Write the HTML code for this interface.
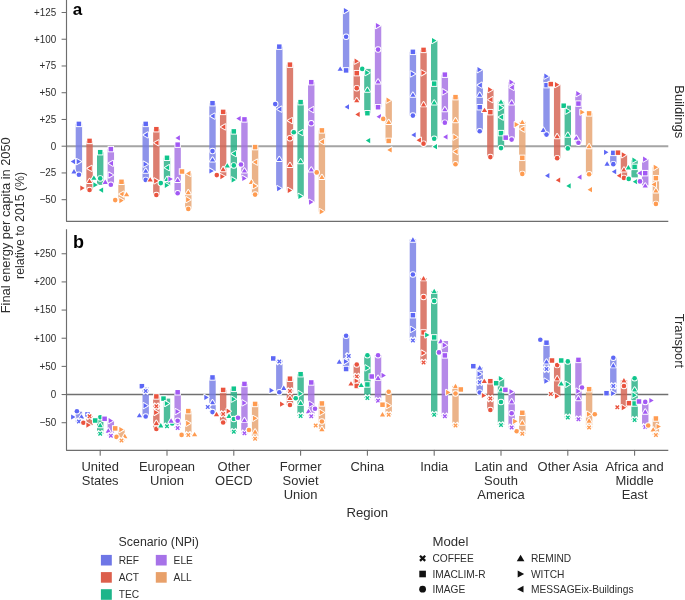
<!DOCTYPE html>
<html><head><meta charset="utf-8"><style>
html,body{margin:0;padding:0;background:#fff;}
body{width:685px;height:600px;overflow:hidden;}
svg{display:block;will-change:transform;}
text{font-family:"Liberation Sans", sans-serif;fill:#2e2e2e;}
.tk{font-size:10.6px;}
.xl{font-size:12px;}
.lt{font-size:12px;}
.lg{font-size:10.2px;}
.pl{font-size:18px;font-weight:bold;fill:#000;}
</style></head><body>
<svg width="685" height="600" viewBox="0 0 685 600">
<line x1="66.5" y1="146.2" x2="668.3" y2="146.2" stroke="#a4a4a4" stroke-width="2"/>
<rect x="75.70" y="123.90" width="6.4" height="51.00" fill="#757de5" fill-opacity="0.82"/>
<rect x="86.35" y="140.90" width="6.4" height="49.00" fill="#d46251" fill-opacity="0.82"/>
<rect x="97.00" y="152.20" width="6.4" height="32.70" fill="#26b085" fill-opacity="0.82"/>
<rect x="107.65" y="149.10" width="6.4" height="35.70" fill="#a570e3" fill-opacity="0.82"/>
<rect x="118.30" y="181.80" width="6.4" height="18.60" fill="#e7a26f" fill-opacity="0.82"/>
<rect x="142.50" y="123.90" width="6.4" height="56.00" fill="#757de5" fill-opacity="0.82"/>
<rect x="153.15" y="129.20" width="6.4" height="65.80" fill="#d46251" fill-opacity="0.82"/>
<rect x="163.80" y="157.80" width="6.4" height="27.50" fill="#26b085" fill-opacity="0.82"/>
<rect x="174.45" y="144.65" width="6.4" height="48.55" fill="#a570e3" fill-opacity="0.82"/>
<rect x="185.10" y="173.40" width="6.4" height="35.50" fill="#e7a26f" fill-opacity="0.82"/>
<rect x="209.30" y="103.20" width="6.4" height="67.80" fill="#757de5" fill-opacity="0.82"/>
<rect x="219.95" y="111.90" width="6.4" height="64.00" fill="#d46251" fill-opacity="0.82"/>
<rect x="230.60" y="131.40" width="6.4" height="48.50" fill="#26b085" fill-opacity="0.82"/>
<rect x="241.25" y="119.40" width="6.4" height="58.50" fill="#a570e3" fill-opacity="0.82"/>
<rect x="251.90" y="147.10" width="6.4" height="47.50" fill="#e7a26f" fill-opacity="0.82"/>
<rect x="276.10" y="46.65" width="6.4" height="141.95" fill="#757de5" fill-opacity="0.82"/>
<rect x="286.75" y="64.65" width="6.4" height="125.75" fill="#d46251" fill-opacity="0.82"/>
<rect x="297.40" y="102.15" width="6.4" height="94.25" fill="#26b085" fill-opacity="0.82"/>
<rect x="308.05" y="82.20" width="6.4" height="119.90" fill="#a570e3" fill-opacity="0.82"/>
<rect x="318.70" y="130.40" width="6.4" height="81.30" fill="#e7a26f" fill-opacity="0.82"/>
<rect x="342.90" y="10.60" width="6.4" height="59.80" fill="#757de5" fill-opacity="0.82"/>
<rect x="353.55" y="61.15" width="6.4" height="39.00" fill="#d46251" fill-opacity="0.82"/>
<rect x="364.20" y="68.90" width="6.4" height="44.30" fill="#26b085" fill-opacity="0.82"/>
<rect x="374.85" y="25.60" width="6.4" height="81.60" fill="#a570e3" fill-opacity="0.82"/>
<rect x="385.50" y="100.15" width="6.4" height="40.75" fill="#e7a26f" fill-opacity="0.82"/>
<rect x="409.70" y="51.85" width="6.4" height="63.75" fill="#757de5" fill-opacity="0.82"/>
<rect x="420.35" y="49.90" width="6.4" height="93.75" fill="#d46251" fill-opacity="0.82"/>
<rect x="431.00" y="40.60" width="6.4" height="98.10" fill="#26b085" fill-opacity="0.82"/>
<rect x="441.65" y="74.65" width="6.4" height="48.00" fill="#a570e3" fill-opacity="0.82"/>
<rect x="452.30" y="97.15" width="6.4" height="67.05" fill="#e7a26f" fill-opacity="0.82"/>
<rect x="476.50" y="69.70" width="6.4" height="61.50" fill="#757de5" fill-opacity="0.82"/>
<rect x="487.15" y="89.65" width="6.4" height="67.45" fill="#d46251" fill-opacity="0.82"/>
<rect x="497.80" y="101.65" width="6.4" height="46.45" fill="#26b085" fill-opacity="0.82"/>
<rect x="508.45" y="82.15" width="6.4" height="57.45" fill="#a570e3" fill-opacity="0.82"/>
<rect x="519.10" y="121.90" width="6.4" height="52.00" fill="#e7a26f" fill-opacity="0.82"/>
<rect x="543.30" y="76.15" width="6.4" height="58.45" fill="#757de5" fill-opacity="0.82"/>
<rect x="553.95" y="84.70" width="6.4" height="73.45" fill="#d46251" fill-opacity="0.82"/>
<rect x="564.60" y="105.70" width="6.4" height="42.70" fill="#26b085" fill-opacity="0.82"/>
<rect x="575.25" y="93.70" width="6.4" height="49.00" fill="#a570e3" fill-opacity="0.82"/>
<rect x="585.90" y="113.20" width="6.4" height="61.00" fill="#e7a26f" fill-opacity="0.82"/>
<rect x="610.10" y="152.90" width="6.4" height="11.25" fill="#757de5" fill-opacity="0.82"/>
<rect x="620.75" y="154.80" width="6.4" height="23.10" fill="#d46251" fill-opacity="0.82"/>
<rect x="631.40" y="160.15" width="6.4" height="17.25" fill="#26b085" fill-opacity="0.82"/>
<rect x="642.05" y="159.15" width="6.4" height="26.25" fill="#a570e3" fill-opacity="0.82"/>
<rect x="652.70" y="167.30" width="6.4" height="36.60" fill="#e7a26f" fill-opacity="0.82"/>
<rect x="76.65" y="121.65" width="4.50" height="4.50" fill="#5d67f5" stroke="#fff" stroke-width="1.90" paint-order="stroke"/>
<polygon points="75.10,159.00 75.10,164.20 70.70,161.60" fill="#5d67f5" stroke="#fff" stroke-width="1.90" stroke-linejoin="round" paint-order="stroke"/>
<polygon points="76.70,159.00 76.70,164.20 81.10,161.60" fill="#5d67f5" stroke="#fff" stroke-width="1.90" stroke-linejoin="round" paint-order="stroke"/>
<polygon points="71.40,173.40 76.60,173.40 74.00,169.00" fill="#5d67f5" stroke="#fff" stroke-width="1.90" stroke-linejoin="round" paint-order="stroke"/>
<circle cx="78.90" cy="174.80" r="2.30" fill="#5d67f5" stroke="#fff" stroke-width="1.90" paint-order="stroke"/>
<rect x="87.30" y="138.65" width="4.50" height="4.50" fill="#ea533e" stroke="#fff" stroke-width="1.90" paint-order="stroke"/>
<polygon points="91.75,165.80 91.75,171.00 87.35,168.40" fill="#ea533e" stroke="#fff" stroke-width="1.90" stroke-linejoin="round" paint-order="stroke"/>
<polygon points="86.95,183.10 92.15,183.10 89.55,178.70" fill="#ea533e" stroke="#fff" stroke-width="1.90" stroke-linejoin="round" paint-order="stroke"/>
<polygon points="80.30,185.50 80.30,190.70 84.70,188.10" fill="#ea533e" stroke="#fff" stroke-width="1.90" stroke-linejoin="round" paint-order="stroke"/>
<circle cx="89.55" cy="190.00" r="2.30" fill="#ea533e" stroke="#fff" stroke-width="1.90" paint-order="stroke"/>
<rect x="97.95" y="149.95" width="4.50" height="4.50" fill="#0fc58c" stroke="#fff" stroke-width="1.90" paint-order="stroke"/>
<polygon points="91.30,179.80 96.50,179.80 93.90,175.40" fill="#0fc58c" stroke="#fff" stroke-width="1.90" stroke-linejoin="round" paint-order="stroke"/>
<circle cx="100.20" cy="178.40" r="2.30" fill="#0fc58c" stroke="#fff" stroke-width="1.90" paint-order="stroke"/>
<polygon points="93.40,182.30 93.40,187.50 97.80,184.90" fill="#0fc58c" stroke="#fff" stroke-width="1.90" stroke-linejoin="round" paint-order="stroke"/>
<polygon points="103.10,187.50 103.10,192.70 98.70,190.10" fill="#0fc58c" stroke="#fff" stroke-width="1.90" stroke-linejoin="round" paint-order="stroke"/>
<rect x="108.60" y="146.85" width="4.50" height="4.50" fill="#a258f4" stroke="#fff" stroke-width="1.90" paint-order="stroke"/>
<polygon points="113.05,160.70 113.05,165.90 108.65,163.30" fill="#a258f4" stroke="#fff" stroke-width="1.90" stroke-linejoin="round" paint-order="stroke"/>
<polygon points="108.65,172.40 108.65,177.60 113.05,175.00" fill="#a258f4" stroke="#fff" stroke-width="1.90" stroke-linejoin="round" paint-order="stroke"/>
<polygon points="102.70,183.90 107.90,183.90 105.30,179.50" fill="#a258f4" stroke="#fff" stroke-width="1.90" stroke-linejoin="round" paint-order="stroke"/>
<circle cx="110.85" cy="184.70" r="2.30" fill="#a258f4" stroke="#fff" stroke-width="1.90" paint-order="stroke"/>
<rect x="119.25" y="179.55" width="4.50" height="4.50" fill="#ff9b50" stroke="#fff" stroke-width="1.90" paint-order="stroke"/>
<polygon points="123.70,191.50 123.70,196.70 119.30,194.10" fill="#ff9b50" stroke="#fff" stroke-width="1.90" stroke-linejoin="round" paint-order="stroke"/>
<polygon points="124.00,196.30 129.20,196.30 126.60,191.90" fill="#ff9b50" stroke="#fff" stroke-width="1.90" stroke-linejoin="round" paint-order="stroke"/>
<circle cx="115.20" cy="200.10" r="2.30" fill="#ff9b50" stroke="#fff" stroke-width="1.90" paint-order="stroke"/>
<polygon points="119.30,198.00 119.30,203.20 123.70,200.60" fill="#ff9b50" stroke="#fff" stroke-width="1.90" stroke-linejoin="round" paint-order="stroke"/>
<rect x="143.45" y="121.65" width="4.50" height="4.50" fill="#5d67f5" stroke="#fff" stroke-width="1.90" paint-order="stroke"/>
<polygon points="147.90,132.30 147.90,137.50 143.50,134.90" fill="#5d67f5" stroke="#fff" stroke-width="1.90" stroke-linejoin="round" paint-order="stroke"/>
<polygon points="143.50,161.55 143.50,166.75 147.90,164.15" fill="#5d67f5" stroke="#fff" stroke-width="1.90" stroke-linejoin="round" paint-order="stroke"/>
<polygon points="143.10,172.85 148.30,172.85 145.70,168.45" fill="#5d67f5" stroke="#fff" stroke-width="1.90" stroke-linejoin="round" paint-order="stroke"/>
<circle cx="145.70" cy="179.90" r="2.30" fill="#5d67f5" stroke="#fff" stroke-width="1.90" paint-order="stroke"/>
<rect x="154.10" y="126.95" width="4.50" height="4.50" fill="#ea533e" stroke="#fff" stroke-width="1.90" paint-order="stroke"/>
<polygon points="158.55,140.20 158.55,145.40 154.15,142.80" fill="#ea533e" stroke="#fff" stroke-width="1.90" stroke-linejoin="round" paint-order="stroke"/>
<polygon points="147.60,181.60 152.80,181.60 150.20,177.20" fill="#ea533e" stroke="#fff" stroke-width="1.90" stroke-linejoin="round" paint-order="stroke"/>
<polygon points="154.15,178.30 154.15,183.50 158.55,180.90" fill="#ea533e" stroke="#fff" stroke-width="1.90" stroke-linejoin="round" paint-order="stroke"/>
<circle cx="156.35" cy="195.00" r="2.30" fill="#ea533e" stroke="#fff" stroke-width="1.90" paint-order="stroke"/>
<rect x="164.75" y="155.55" width="4.50" height="4.50" fill="#0fc58c" stroke="#fff" stroke-width="1.90" paint-order="stroke"/>
<polygon points="169.20,165.10 169.20,170.30 164.80,167.70" fill="#0fc58c" stroke="#fff" stroke-width="1.90" stroke-linejoin="round" paint-order="stroke"/>
<polygon points="164.40,181.10 169.60,181.10 167.00,176.70" fill="#0fc58c" stroke="#fff" stroke-width="1.90" stroke-linejoin="round" paint-order="stroke"/>
<circle cx="160.80" cy="183.10" r="2.30" fill="#0fc58c" stroke="#fff" stroke-width="1.90" paint-order="stroke"/>
<polygon points="164.80,182.70 164.80,187.90 169.20,185.30" fill="#0fc58c" stroke="#fff" stroke-width="1.90" stroke-linejoin="round" paint-order="stroke"/>
<polygon points="179.85,135.30 179.85,140.50 175.45,137.90" fill="#a258f4" stroke="#fff" stroke-width="1.90" stroke-linejoin="round" paint-order="stroke"/>
<rect x="175.40" y="142.40" width="4.50" height="4.50" fill="#a258f4" stroke="#fff" stroke-width="1.90" paint-order="stroke"/>
<polygon points="168.40,176.50 168.40,181.70 172.80,179.10" fill="#a258f4" stroke="#fff" stroke-width="1.90" stroke-linejoin="round" paint-order="stroke"/>
<polygon points="175.05,182.10 180.25,182.10 177.65,177.70" fill="#a258f4" stroke="#fff" stroke-width="1.90" stroke-linejoin="round" paint-order="stroke"/>
<circle cx="177.65" cy="193.20" r="2.30" fill="#a258f4" stroke="#fff" stroke-width="1.90" paint-order="stroke"/>
<rect x="179.75" y="169.25" width="4.50" height="4.50" fill="#ff9b50" stroke="#fff" stroke-width="1.90" paint-order="stroke"/>
<polygon points="190.50,170.80 190.50,176.00 186.10,173.40" fill="#ff9b50" stroke="#fff" stroke-width="1.90" stroke-linejoin="round" paint-order="stroke"/>
<polygon points="185.70,194.30 190.90,194.30 188.30,189.90" fill="#ff9b50" stroke="#fff" stroke-width="1.90" stroke-linejoin="round" paint-order="stroke"/>
<polygon points="186.10,197.10 186.10,202.30 190.50,199.70" fill="#ff9b50" stroke="#fff" stroke-width="1.90" stroke-linejoin="round" paint-order="stroke"/>
<circle cx="188.30" cy="208.90" r="2.30" fill="#ff9b50" stroke="#fff" stroke-width="1.90" paint-order="stroke"/>
<rect x="210.25" y="100.95" width="4.50" height="4.50" fill="#5d67f5" stroke="#fff" stroke-width="1.90" paint-order="stroke"/>
<polygon points="214.70,113.50 214.70,118.70 210.30,116.10" fill="#5d67f5" stroke="#fff" stroke-width="1.90" stroke-linejoin="round" paint-order="stroke"/>
<circle cx="212.50" cy="151.10" r="2.30" fill="#5d67f5" stroke="#fff" stroke-width="1.90" paint-order="stroke"/>
<polygon points="209.90,161.60 215.10,161.60 212.50,157.20" fill="#5d67f5" stroke="#fff" stroke-width="1.90" stroke-linejoin="round" paint-order="stroke"/>
<polygon points="209.40,168.40 209.40,173.60 213.80,171.00" fill="#5d67f5" stroke="#fff" stroke-width="1.90" stroke-linejoin="round" paint-order="stroke"/>
<rect x="220.90" y="109.65" width="4.50" height="4.50" fill="#ea533e" stroke="#fff" stroke-width="1.90" paint-order="stroke"/>
<polygon points="225.35,124.30 225.35,129.50 220.95,126.90" fill="#ea533e" stroke="#fff" stroke-width="1.90" stroke-linejoin="round" paint-order="stroke"/>
<polygon points="220.55,171.20 225.75,171.20 223.15,166.80" fill="#ea533e" stroke="#fff" stroke-width="1.90" stroke-linejoin="round" paint-order="stroke"/>
<circle cx="216.80" cy="175.10" r="2.30" fill="#ea533e" stroke="#fff" stroke-width="1.90" paint-order="stroke"/>
<polygon points="220.40,174.00 220.40,179.20 224.80,176.60" fill="#ea533e" stroke="#fff" stroke-width="1.90" stroke-linejoin="round" paint-order="stroke"/>
<rect x="231.55" y="129.15" width="4.50" height="4.50" fill="#0fc58c" stroke="#fff" stroke-width="1.90" paint-order="stroke"/>
<polygon points="236.00,151.00 236.00,156.20 231.60,153.60" fill="#0fc58c" stroke="#fff" stroke-width="1.90" stroke-linejoin="round" paint-order="stroke"/>
<polygon points="224.70,167.60 229.90,167.60 227.30,163.20" fill="#0fc58c" stroke="#fff" stroke-width="1.90" stroke-linejoin="round" paint-order="stroke"/>
<circle cx="233.80" cy="165.40" r="2.30" fill="#0fc58c" stroke="#fff" stroke-width="1.90" paint-order="stroke"/>
<polygon points="231.60,177.30 231.60,182.50 236.00,179.90" fill="#0fc58c" stroke="#fff" stroke-width="1.90" stroke-linejoin="round" paint-order="stroke"/>
<polygon points="240.70,116.00 240.70,121.20 236.30,118.60" fill="#a258f4" stroke="#fff" stroke-width="1.90" stroke-linejoin="round" paint-order="stroke"/>
<rect x="242.20" y="117.15" width="4.50" height="4.50" fill="#a258f4" stroke="#fff" stroke-width="1.90" paint-order="stroke"/>
<circle cx="241.00" cy="164.50" r="2.30" fill="#a258f4" stroke="#fff" stroke-width="1.90" paint-order="stroke"/>
<polygon points="241.85,172.60 247.05,172.60 244.45,168.20" fill="#a258f4" stroke="#fff" stroke-width="1.90" stroke-linejoin="round" paint-order="stroke"/>
<polygon points="242.25,175.80 242.25,181.00 246.65,178.40" fill="#a258f4" stroke="#fff" stroke-width="1.90" stroke-linejoin="round" paint-order="stroke"/>
<rect x="252.85" y="144.85" width="4.50" height="4.50" fill="#ff9b50" stroke="#fff" stroke-width="1.90" paint-order="stroke"/>
<polygon points="257.30,159.50 257.30,164.70 252.90,162.10" fill="#ff9b50" stroke="#fff" stroke-width="1.90" stroke-linejoin="round" paint-order="stroke"/>
<polygon points="248.80,184.00 254.00,184.00 251.40,179.60" fill="#ff9b50" stroke="#fff" stroke-width="1.90" stroke-linejoin="round" paint-order="stroke"/>
<polygon points="252.90,183.30 252.90,188.50 257.30,185.90" fill="#ff9b50" stroke="#fff" stroke-width="1.90" stroke-linejoin="round" paint-order="stroke"/>
<circle cx="255.10" cy="194.60" r="2.30" fill="#ff9b50" stroke="#fff" stroke-width="1.90" paint-order="stroke"/>
<rect x="277.05" y="44.40" width="4.50" height="4.50" fill="#5d67f5" stroke="#fff" stroke-width="1.90" paint-order="stroke"/>
<circle cx="275.20" cy="104.10" r="2.30" fill="#5d67f5" stroke="#fff" stroke-width="1.90" paint-order="stroke"/>
<polygon points="281.50,106.60 281.50,111.80 277.10,109.20" fill="#5d67f5" stroke="#fff" stroke-width="1.90" stroke-linejoin="round" paint-order="stroke"/>
<polygon points="276.70,161.10 281.90,161.10 279.30,156.70" fill="#5d67f5" stroke="#fff" stroke-width="1.90" stroke-linejoin="round" paint-order="stroke"/>
<polygon points="277.10,186.00 277.10,191.20 281.50,188.60" fill="#5d67f5" stroke="#fff" stroke-width="1.90" stroke-linejoin="round" paint-order="stroke"/>
<rect x="287.70" y="62.40" width="4.50" height="4.50" fill="#ea533e" stroke="#fff" stroke-width="1.90" paint-order="stroke"/>
<polygon points="292.15,118.00 292.15,123.20 287.75,120.60" fill="#ea533e" stroke="#fff" stroke-width="1.90" stroke-linejoin="round" paint-order="stroke"/>
<circle cx="289.95" cy="138.20" r="2.30" fill="#ea533e" stroke="#fff" stroke-width="1.90" paint-order="stroke"/>
<polygon points="287.35,167.10 292.55,167.10 289.95,162.70" fill="#ea533e" stroke="#fff" stroke-width="1.90" stroke-linejoin="round" paint-order="stroke"/>
<polygon points="287.75,187.80 287.75,193.00 292.15,190.40" fill="#ea533e" stroke="#fff" stroke-width="1.90" stroke-linejoin="round" paint-order="stroke"/>
<rect x="298.35" y="99.90" width="4.50" height="4.50" fill="#0fc58c" stroke="#fff" stroke-width="1.90" paint-order="stroke"/>
<circle cx="293.80" cy="132.20" r="2.30" fill="#0fc58c" stroke="#fff" stroke-width="1.90" paint-order="stroke"/>
<polygon points="302.80,130.05 302.80,135.25 298.40,132.65" fill="#0fc58c" stroke="#fff" stroke-width="1.90" stroke-linejoin="round" paint-order="stroke"/>
<polygon points="298.00,163.35 303.20,163.35 300.60,158.95" fill="#0fc58c" stroke="#fff" stroke-width="1.90" stroke-linejoin="round" paint-order="stroke"/>
<polygon points="298.40,193.80 298.40,199.00 302.80,196.40" fill="#0fc58c" stroke="#fff" stroke-width="1.90" stroke-linejoin="round" paint-order="stroke"/>
<rect x="309.00" y="79.95" width="4.50" height="4.50" fill="#a258f4" stroke="#fff" stroke-width="1.90" paint-order="stroke"/>
<polygon points="313.45,107.05 313.45,112.25 309.05,109.65" fill="#a258f4" stroke="#fff" stroke-width="1.90" stroke-linejoin="round" paint-order="stroke"/>
<circle cx="311.25" cy="123.20" r="2.30" fill="#a258f4" stroke="#fff" stroke-width="1.90" paint-order="stroke"/>
<polygon points="308.65,171.60 313.85,171.60 311.25,167.20" fill="#a258f4" stroke="#fff" stroke-width="1.90" stroke-linejoin="round" paint-order="stroke"/>
<polygon points="309.05,199.50 309.05,204.70 313.45,202.10" fill="#a258f4" stroke="#fff" stroke-width="1.90" stroke-linejoin="round" paint-order="stroke"/>
<rect x="319.65" y="128.15" width="4.50" height="4.50" fill="#ff9b50" stroke="#fff" stroke-width="1.90" paint-order="stroke"/>
<polygon points="324.10,139.05 324.10,144.25 319.70,141.65" fill="#ff9b50" stroke="#fff" stroke-width="1.90" stroke-linejoin="round" paint-order="stroke"/>
<circle cx="316.75" cy="172.40" r="2.30" fill="#ff9b50" stroke="#fff" stroke-width="1.90" paint-order="stroke"/>
<polygon points="319.30,179.10 324.50,179.10 321.90,174.70" fill="#ff9b50" stroke="#fff" stroke-width="1.90" stroke-linejoin="round" paint-order="stroke"/>
<polygon points="319.70,209.10 319.70,214.30 324.10,211.70" fill="#ff9b50" stroke="#fff" stroke-width="1.90" stroke-linejoin="round" paint-order="stroke"/>
<polygon points="343.90,8.00 343.90,13.20 348.30,10.60" fill="#5d67f5" stroke="#fff" stroke-width="1.90" stroke-linejoin="round" paint-order="stroke"/>
<circle cx="346.10" cy="36.80" r="2.30" fill="#5d67f5" stroke="#fff" stroke-width="1.90" paint-order="stroke"/>
<polygon points="337.60,70.85 342.80,70.85 340.20,66.45" fill="#5d67f5" stroke="#fff" stroke-width="1.90" stroke-linejoin="round" paint-order="stroke"/>
<rect x="343.85" y="68.15" width="4.50" height="4.50" fill="#5d67f5" stroke="#fff" stroke-width="1.90" paint-order="stroke"/>
<polygon points="349.00,104.30 349.00,109.50 344.60,106.90" fill="#5d67f5" stroke="#fff" stroke-width="1.90" stroke-linejoin="round" paint-order="stroke"/>
<polygon points="354.55,58.55 354.55,63.75 358.95,61.15" fill="#ea533e" stroke="#fff" stroke-width="1.90" stroke-linejoin="round" paint-order="stroke"/>
<rect x="354.50" y="70.90" width="4.50" height="4.50" fill="#ea533e" stroke="#fff" stroke-width="1.90" paint-order="stroke"/>
<circle cx="356.75" cy="88.15" r="2.30" fill="#ea533e" stroke="#fff" stroke-width="1.90" paint-order="stroke"/>
<polygon points="354.15,102.35 359.35,102.35 356.75,97.95" fill="#ea533e" stroke="#fff" stroke-width="1.90" stroke-linejoin="round" paint-order="stroke"/>
<polygon points="359.70,111.80 359.70,117.00 355.30,114.40" fill="#ea533e" stroke="#fff" stroke-width="1.90" stroke-linejoin="round" paint-order="stroke"/>
<circle cx="362.25" cy="68.90" r="2.30" fill="#0fc58c" stroke="#fff" stroke-width="1.90" paint-order="stroke"/>
<polygon points="365.20,70.10 365.20,75.30 369.60,72.70" fill="#0fc58c" stroke="#fff" stroke-width="1.90" stroke-linejoin="round" paint-order="stroke"/>
<polygon points="364.80,91.85 370.00,91.85 367.40,87.45" fill="#0fc58c" stroke="#fff" stroke-width="1.90" stroke-linejoin="round" paint-order="stroke"/>
<rect x="365.15" y="110.95" width="4.50" height="4.50" fill="#0fc58c" stroke="#fff" stroke-width="1.90" paint-order="stroke"/>
<polygon points="370.20,138.00 370.20,143.20 365.80,140.60" fill="#0fc58c" stroke="#fff" stroke-width="1.90" stroke-linejoin="round" paint-order="stroke"/>
<polygon points="375.85,23.00 375.85,28.20 380.25,25.60" fill="#a258f4" stroke="#fff" stroke-width="1.90" stroke-linejoin="round" paint-order="stroke"/>
<circle cx="378.05" cy="49.60" r="2.30" fill="#a258f4" stroke="#fff" stroke-width="1.90" paint-order="stroke"/>
<polygon points="375.45,83.60 380.65,83.60 378.05,79.20" fill="#a258f4" stroke="#fff" stroke-width="1.90" stroke-linejoin="round" paint-order="stroke"/>
<rect x="375.80" y="104.95" width="4.50" height="4.50" fill="#a258f4" stroke="#fff" stroke-width="1.90" paint-order="stroke"/>
<polygon points="380.95,114.05 380.95,119.25 376.55,116.65" fill="#a258f4" stroke="#fff" stroke-width="1.90" stroke-linejoin="round" paint-order="stroke"/>
<polygon points="386.50,97.55 386.50,102.75 390.90,100.15" fill="#ff9b50" stroke="#fff" stroke-width="1.90" stroke-linejoin="round" paint-order="stroke"/>
<circle cx="383.25" cy="118.90" r="2.30" fill="#ff9b50" stroke="#fff" stroke-width="1.90" paint-order="stroke"/>
<polygon points="386.10,124.10 391.30,124.10 388.70,119.70" fill="#ff9b50" stroke="#fff" stroke-width="1.90" stroke-linejoin="round" paint-order="stroke"/>
<rect x="386.45" y="138.65" width="4.50" height="4.50" fill="#ff9b50" stroke="#fff" stroke-width="1.90" paint-order="stroke"/>
<polygon points="391.70,147.30 391.70,152.50 387.30,149.90" fill="#ff9b50" stroke="#fff" stroke-width="1.90" stroke-linejoin="round" paint-order="stroke"/>
<rect x="410.65" y="49.60" width="4.50" height="4.50" fill="#5d67f5" stroke="#fff" stroke-width="1.90" paint-order="stroke"/>
<polygon points="410.70,71.30 410.70,76.50 415.10,73.90" fill="#5d67f5" stroke="#fff" stroke-width="1.90" stroke-linejoin="round" paint-order="stroke"/>
<polygon points="410.30,96.80 415.50,96.80 412.90,92.40" fill="#5d67f5" stroke="#fff" stroke-width="1.90" stroke-linejoin="round" paint-order="stroke"/>
<circle cx="412.90" cy="115.60" r="2.30" fill="#5d67f5" stroke="#fff" stroke-width="1.90" paint-order="stroke"/>
<polygon points="415.70,132.30 415.70,137.50 411.30,134.90" fill="#5d67f5" stroke="#fff" stroke-width="1.90" stroke-linejoin="round" paint-order="stroke"/>
<rect x="421.30" y="47.65" width="4.50" height="4.50" fill="#ea533e" stroke="#fff" stroke-width="1.90" paint-order="stroke"/>
<polygon points="421.35,70.25 421.35,75.45 425.75,72.85" fill="#ea533e" stroke="#fff" stroke-width="1.90" stroke-linejoin="round" paint-order="stroke"/>
<polygon points="420.95,106.40 426.15,106.40 423.55,102.00" fill="#ea533e" stroke="#fff" stroke-width="1.90" stroke-linejoin="round" paint-order="stroke"/>
<polygon points="420.95,137.60 420.95,142.80 416.55,140.20" fill="#ea533e" stroke="#fff" stroke-width="1.90" stroke-linejoin="round" paint-order="stroke"/>
<circle cx="423.55" cy="143.65" r="2.30" fill="#ea533e" stroke="#fff" stroke-width="1.90" paint-order="stroke"/>
<polygon points="432.00,38.00 432.00,43.20 436.40,40.60" fill="#0fc58c" stroke="#fff" stroke-width="1.90" stroke-linejoin="round" paint-order="stroke"/>
<rect x="431.95" y="81.40" width="4.50" height="4.50" fill="#0fc58c" stroke="#fff" stroke-width="1.90" paint-order="stroke"/>
<polygon points="431.60,104.60 436.80,104.60 434.20,100.20" fill="#0fc58c" stroke="#fff" stroke-width="1.90" stroke-linejoin="round" paint-order="stroke"/>
<circle cx="434.20" cy="138.70" r="2.30" fill="#0fc58c" stroke="#fff" stroke-width="1.90" paint-order="stroke"/>
<polygon points="437.00,144.05 437.00,149.25 432.60,146.65" fill="#0fc58c" stroke="#fff" stroke-width="1.90" stroke-linejoin="round" paint-order="stroke"/>
<rect x="442.60" y="72.40" width="4.50" height="4.50" fill="#a258f4" stroke="#fff" stroke-width="1.90" paint-order="stroke"/>
<polygon points="442.65,89.30 442.65,94.50 447.05,91.90" fill="#a258f4" stroke="#fff" stroke-width="1.90" stroke-linejoin="round" paint-order="stroke"/>
<polygon points="442.25,111.35 447.45,111.35 444.85,106.95" fill="#a258f4" stroke="#fff" stroke-width="1.90" stroke-linejoin="round" paint-order="stroke"/>
<circle cx="444.85" cy="122.65" r="2.30" fill="#a258f4" stroke="#fff" stroke-width="1.90" paint-order="stroke"/>
<polygon points="447.50,134.30 447.50,139.50 443.10,136.90" fill="#a258f4" stroke="#fff" stroke-width="1.90" stroke-linejoin="round" paint-order="stroke"/>
<rect x="453.25" y="94.90" width="4.50" height="4.50" fill="#ff9b50" stroke="#fff" stroke-width="1.90" paint-order="stroke"/>
<polygon points="452.90,122.30 458.10,122.30 455.50,117.90" fill="#ff9b50" stroke="#fff" stroke-width="1.90" stroke-linejoin="round" paint-order="stroke"/>
<polygon points="453.30,134.60 453.30,139.80 457.70,137.20" fill="#ff9b50" stroke="#fff" stroke-width="1.90" stroke-linejoin="round" paint-order="stroke"/>
<polygon points="457.70,149.00 457.70,154.20 453.30,151.60" fill="#ff9b50" stroke="#fff" stroke-width="1.90" stroke-linejoin="round" paint-order="stroke"/>
<circle cx="455.50" cy="164.20" r="2.30" fill="#ff9b50" stroke="#fff" stroke-width="1.90" paint-order="stroke"/>
<polygon points="477.50,67.10 477.50,72.30 481.90,69.70" fill="#5d67f5" stroke="#fff" stroke-width="1.90" stroke-linejoin="round" paint-order="stroke"/>
<polygon points="481.90,82.55 481.90,87.75 477.50,85.15" fill="#5d67f5" stroke="#fff" stroke-width="1.90" stroke-linejoin="round" paint-order="stroke"/>
<polygon points="477.10,96.80 482.30,96.80 479.70,92.40" fill="#5d67f5" stroke="#fff" stroke-width="1.90" stroke-linejoin="round" paint-order="stroke"/>
<rect x="477.45" y="104.95" width="4.50" height="4.50" fill="#5d67f5" stroke="#fff" stroke-width="1.90" paint-order="stroke"/>
<circle cx="479.70" cy="131.20" r="2.30" fill="#5d67f5" stroke="#fff" stroke-width="1.90" paint-order="stroke"/>
<polygon points="488.15,87.05 488.15,92.25 492.55,89.65" fill="#ea533e" stroke="#fff" stroke-width="1.90" stroke-linejoin="round" paint-order="stroke"/>
<polygon points="492.55,97.10 492.55,102.30 488.15,99.70" fill="#ea533e" stroke="#fff" stroke-width="1.90" stroke-linejoin="round" paint-order="stroke"/>
<polygon points="481.90,112.10 487.10,112.10 484.50,107.70" fill="#ea533e" stroke="#fff" stroke-width="1.90" stroke-linejoin="round" paint-order="stroke"/>
<rect x="488.10" y="109.90" width="4.50" height="4.50" fill="#ea533e" stroke="#fff" stroke-width="1.90" paint-order="stroke"/>
<circle cx="490.35" cy="157.10" r="2.30" fill="#ea533e" stroke="#fff" stroke-width="1.90" paint-order="stroke"/>
<polygon points="498.40,103.85 503.60,103.85 501.00,99.45" fill="#0fc58c" stroke="#fff" stroke-width="1.90" stroke-linejoin="round" paint-order="stroke"/>
<polygon points="498.80,105.05 498.80,110.25 503.20,107.65" fill="#0fc58c" stroke="#fff" stroke-width="1.90" stroke-linejoin="round" paint-order="stroke"/>
<polygon points="503.20,114.50 503.20,119.70 498.80,117.10" fill="#0fc58c" stroke="#fff" stroke-width="1.90" stroke-linejoin="round" paint-order="stroke"/>
<rect x="498.75" y="130.85" width="4.50" height="4.50" fill="#0fc58c" stroke="#fff" stroke-width="1.90" paint-order="stroke"/>
<circle cx="501.00" cy="148.10" r="2.30" fill="#0fc58c" stroke="#fff" stroke-width="1.90" paint-order="stroke"/>
<polygon points="509.45,79.55 509.45,84.75 513.85,82.15" fill="#a258f4" stroke="#fff" stroke-width="1.90" stroke-linejoin="round" paint-order="stroke"/>
<polygon points="513.85,84.80 513.85,90.00 509.45,87.40" fill="#a258f4" stroke="#fff" stroke-width="1.90" stroke-linejoin="round" paint-order="stroke"/>
<polygon points="509.05,104.60 514.25,104.60 511.65,100.20" fill="#a258f4" stroke="#fff" stroke-width="1.90" stroke-linejoin="round" paint-order="stroke"/>
<rect x="503.45" y="135.40" width="4.50" height="4.50" fill="#a258f4" stroke="#fff" stroke-width="1.90" paint-order="stroke"/>
<circle cx="511.65" cy="139.60" r="2.30" fill="#a258f4" stroke="#fff" stroke-width="1.90" paint-order="stroke"/>
<polygon points="519.70,124.10 524.90,124.10 522.30,119.70" fill="#ff9b50" stroke="#fff" stroke-width="1.90" stroke-linejoin="round" paint-order="stroke"/>
<polygon points="514.60,122.00 514.60,127.20 519.00,124.60" fill="#ff9b50" stroke="#fff" stroke-width="1.90" stroke-linejoin="round" paint-order="stroke"/>
<polygon points="524.50,126.50 524.50,131.70 520.10,129.10" fill="#ff9b50" stroke="#fff" stroke-width="1.90" stroke-linejoin="round" paint-order="stroke"/>
<rect x="520.05" y="155.60" width="4.50" height="4.50" fill="#ff9b50" stroke="#fff" stroke-width="1.90" paint-order="stroke"/>
<circle cx="522.30" cy="173.90" r="2.30" fill="#ff9b50" stroke="#fff" stroke-width="1.90" paint-order="stroke"/>
<polygon points="544.30,73.55 544.30,78.75 548.70,76.15" fill="#5d67f5" stroke="#fff" stroke-width="1.90" stroke-linejoin="round" paint-order="stroke"/>
<rect x="544.25" y="82.90" width="4.50" height="4.50" fill="#5d67f5" stroke="#fff" stroke-width="1.90" paint-order="stroke"/>
<polygon points="540.70,131.90 545.90,131.90 543.30,127.50" fill="#5d67f5" stroke="#fff" stroke-width="1.90" stroke-linejoin="round" paint-order="stroke"/>
<circle cx="546.50" cy="134.60" r="2.30" fill="#5d67f5" stroke="#fff" stroke-width="1.90" paint-order="stroke"/>
<polygon points="549.40,173.10 549.40,178.30 545.00,175.70" fill="#5d67f5" stroke="#fff" stroke-width="1.90" stroke-linejoin="round" paint-order="stroke"/>
<rect x="548.55" y="81.85" width="4.50" height="4.50" fill="#ea533e" stroke="#fff" stroke-width="1.90" paint-order="stroke"/>
<polygon points="554.95,82.10 554.95,87.30 559.35,84.70" fill="#ea533e" stroke="#fff" stroke-width="1.90" stroke-linejoin="round" paint-order="stroke"/>
<polygon points="554.55,138.30 559.75,138.30 557.15,133.90" fill="#ea533e" stroke="#fff" stroke-width="1.90" stroke-linejoin="round" paint-order="stroke"/>
<circle cx="557.15" cy="158.15" r="2.30" fill="#ea533e" stroke="#fff" stroke-width="1.90" paint-order="stroke"/>
<polygon points="560.20,177.60 560.20,182.80 555.80,180.20" fill="#ea533e" stroke="#fff" stroke-width="1.90" stroke-linejoin="round" paint-order="stroke"/>
<rect x="561.45" y="103.45" width="4.50" height="4.50" fill="#0fc58c" stroke="#fff" stroke-width="1.90" paint-order="stroke"/>
<polygon points="565.60,108.50 565.60,113.70 570.00,111.10" fill="#0fc58c" stroke="#fff" stroke-width="1.90" stroke-linejoin="round" paint-order="stroke"/>
<polygon points="565.20,136.85 570.40,136.85 567.80,132.45" fill="#0fc58c" stroke="#fff" stroke-width="1.90" stroke-linejoin="round" paint-order="stroke"/>
<circle cx="567.80" cy="148.40" r="2.30" fill="#0fc58c" stroke="#fff" stroke-width="1.90" paint-order="stroke"/>
<polygon points="570.70,183.30 570.70,188.50 566.30,185.90" fill="#0fc58c" stroke="#fff" stroke-width="1.90" stroke-linejoin="round" paint-order="stroke"/>
<polygon points="576.25,91.10 576.25,96.30 580.65,93.70" fill="#a258f4" stroke="#fff" stroke-width="1.90" stroke-linejoin="round" paint-order="stroke"/>
<rect x="576.20" y="101.35" width="4.50" height="4.50" fill="#a258f4" stroke="#fff" stroke-width="1.90" paint-order="stroke"/>
<polygon points="573.70,139.80 578.90,139.80 576.30,135.40" fill="#a258f4" stroke="#fff" stroke-width="1.90" stroke-linejoin="round" paint-order="stroke"/>
<circle cx="578.45" cy="142.70" r="2.30" fill="#a258f4" stroke="#fff" stroke-width="1.90" paint-order="stroke"/>
<polygon points="581.50,174.60 581.50,179.80 577.10,177.20" fill="#a258f4" stroke="#fff" stroke-width="1.90" stroke-linejoin="round" paint-order="stroke"/>
<polygon points="580.25,109.55 580.25,114.75 584.65,112.15" fill="#ff9b50" stroke="#fff" stroke-width="1.90" stroke-linejoin="round" paint-order="stroke"/>
<rect x="586.85" y="111.15" width="4.50" height="4.50" fill="#ff9b50" stroke="#fff" stroke-width="1.90" paint-order="stroke"/>
<polygon points="586.50,148.35 591.70,148.35 589.10,143.95" fill="#ff9b50" stroke="#fff" stroke-width="1.90" stroke-linejoin="round" paint-order="stroke"/>
<circle cx="589.10" cy="174.20" r="2.30" fill="#ff9b50" stroke="#fff" stroke-width="1.90" paint-order="stroke"/>
<polygon points="592.00,187.05 592.00,192.25 587.60,189.65" fill="#ff9b50" stroke="#fff" stroke-width="1.90" stroke-linejoin="round" paint-order="stroke"/>
<polygon points="604.05,149.70 604.05,154.90 608.45,152.30" fill="#5d67f5" stroke="#fff" stroke-width="1.90" stroke-linejoin="round" paint-order="stroke"/>
<rect x="611.05" y="150.65" width="4.50" height="4.50" fill="#5d67f5" stroke="#fff" stroke-width="1.90" paint-order="stroke"/>
<polygon points="604.50,165.70 609.70,165.70 607.10,161.30" fill="#5d67f5" stroke="#fff" stroke-width="1.90" stroke-linejoin="round" paint-order="stroke"/>
<circle cx="613.30" cy="164.15" r="2.30" fill="#5d67f5" stroke="#fff" stroke-width="1.90" paint-order="stroke"/>
<polygon points="616.20,169.05 616.20,174.25 611.80,171.65" fill="#5d67f5" stroke="#fff" stroke-width="1.90" stroke-linejoin="round" paint-order="stroke"/>
<rect x="615.75" y="150.40" width="4.50" height="4.50" fill="#ea533e" stroke="#fff" stroke-width="1.90" paint-order="stroke"/>
<polygon points="621.75,152.20 621.75,157.40 626.15,154.80" fill="#ea533e" stroke="#fff" stroke-width="1.90" stroke-linejoin="round" paint-order="stroke"/>
<polygon points="621.35,171.60 626.55,171.60 623.95,167.20" fill="#ea533e" stroke="#fff" stroke-width="1.90" stroke-linejoin="round" paint-order="stroke"/>
<polygon points="621.20,173.05 621.20,178.25 616.80,175.65" fill="#ea533e" stroke="#fff" stroke-width="1.90" stroke-linejoin="round" paint-order="stroke"/>
<circle cx="623.95" cy="177.90" r="2.30" fill="#ea533e" stroke="#fff" stroke-width="1.90" paint-order="stroke"/>
<polygon points="632.40,157.55 632.40,162.75 636.80,160.15" fill="#0fc58c" stroke="#fff" stroke-width="1.90" stroke-linejoin="round" paint-order="stroke"/>
<polygon points="625.80,169.50 631.00,169.50 628.40,165.10" fill="#0fc58c" stroke="#fff" stroke-width="1.90" stroke-linejoin="round" paint-order="stroke"/>
<rect x="632.35" y="164.65" width="4.50" height="4.50" fill="#0fc58c" stroke="#fff" stroke-width="1.90" paint-order="stroke"/>
<circle cx="628.75" cy="178.90" r="2.30" fill="#0fc58c" stroke="#fff" stroke-width="1.90" paint-order="stroke"/>
<polygon points="637.20,179.05 637.20,184.25 632.80,181.65" fill="#0fc58c" stroke="#fff" stroke-width="1.90" stroke-linejoin="round" paint-order="stroke"/>
<polygon points="643.05,156.55 643.05,161.75 647.45,159.15" fill="#a258f4" stroke="#fff" stroke-width="1.90" stroke-linejoin="round" paint-order="stroke"/>
<polygon points="641.80,170.55 641.80,175.75 637.40,173.15" fill="#a258f4" stroke="#fff" stroke-width="1.90" stroke-linejoin="round" paint-order="stroke"/>
<rect x="643.00" y="170.90" width="4.50" height="4.50" fill="#a258f4" stroke="#fff" stroke-width="1.90" paint-order="stroke"/>
<circle cx="640.00" cy="181.40" r="2.30" fill="#a258f4" stroke="#fff" stroke-width="1.90" paint-order="stroke"/>
<polygon points="642.65,187.60 647.85,187.60 645.25,183.20" fill="#a258f4" stroke="#fff" stroke-width="1.90" stroke-linejoin="round" paint-order="stroke"/>
<polygon points="653.70,164.70 653.70,169.90 658.10,167.30" fill="#ff9b50" stroke="#fff" stroke-width="1.90" stroke-linejoin="round" paint-order="stroke"/>
<rect x="653.65" y="175.90" width="4.50" height="4.50" fill="#ff9b50" stroke="#fff" stroke-width="1.90" paint-order="stroke"/>
<polygon points="655.95,181.80 655.95,187.00 651.55,184.40" fill="#ff9b50" stroke="#fff" stroke-width="1.90" stroke-linejoin="round" paint-order="stroke"/>
<polygon points="653.30,192.60 658.50,192.60 655.90,188.20" fill="#ff9b50" stroke="#fff" stroke-width="1.90" stroke-linejoin="round" paint-order="stroke"/>
<circle cx="655.90" cy="203.90" r="2.30" fill="#ff9b50" stroke="#fff" stroke-width="1.90" paint-order="stroke"/>
<path d="M66.5,0 V221.3 H668.3" stroke="#6e6e6e" stroke-width="1.15" fill="none" stroke-linejoin="round"/>
<line x1="61.6" y1="12.50" x2="66.5" y2="12.50" stroke="#6e6e6e" stroke-width="1.05"/>
<text transform="translate(56.3,15.80) scale(0.93,1)" text-anchor="end" class="tk">+125</text>
<line x1="61.6" y1="39.24" x2="66.5" y2="39.24" stroke="#6e6e6e" stroke-width="1.05"/>
<text transform="translate(56.3,42.54) scale(0.93,1)" text-anchor="end" class="tk">+100</text>
<line x1="61.6" y1="65.98" x2="66.5" y2="65.98" stroke="#6e6e6e" stroke-width="1.05"/>
<text transform="translate(56.3,69.28) scale(0.93,1)" text-anchor="end" class="tk">+75</text>
<line x1="61.6" y1="92.72" x2="66.5" y2="92.72" stroke="#6e6e6e" stroke-width="1.05"/>
<text transform="translate(56.3,96.02) scale(0.93,1)" text-anchor="end" class="tk">+50</text>
<line x1="61.6" y1="119.46" x2="66.5" y2="119.46" stroke="#6e6e6e" stroke-width="1.05"/>
<text transform="translate(56.3,122.76) scale(0.93,1)" text-anchor="end" class="tk">+25</text>
<line x1="61.6" y1="146.20" x2="66.5" y2="146.20" stroke="#6e6e6e" stroke-width="1.05"/>
<text transform="translate(56.3,149.50) scale(0.93,1)" text-anchor="end" class="tk">0</text>
<line x1="61.6" y1="172.94" x2="66.5" y2="172.94" stroke="#6e6e6e" stroke-width="1.05"/>
<text transform="translate(56.3,176.24) scale(0.93,1)" text-anchor="end" class="tk">−25</text>
<line x1="61.6" y1="199.68" x2="66.5" y2="199.68" stroke="#6e6e6e" stroke-width="1.05"/>
<text transform="translate(56.3,202.98) scale(0.93,1)" text-anchor="end" class="tk">−50</text>
<text x="72.8" y="15.3" class="pl" style="font-size:17px">a</text>
<line x1="66.5" y1="394.55" x2="668.3" y2="394.55" stroke="#707070" stroke-width="1.4"/>
<rect x="75.70" y="411.70" width="6.4" height="9.90" fill="#757de5" fill-opacity="0.82"/>
<rect x="86.35" y="416.20" width="6.4" height="8.90" fill="#d46251" fill-opacity="0.82"/>
<rect x="97.00" y="417.20" width="6.4" height="16.50" fill="#26b085" fill-opacity="0.82"/>
<rect x="107.65" y="420.70" width="6.4" height="15.00" fill="#a570e3" fill-opacity="0.82"/>
<rect x="118.30" y="429.60" width="6.4" height="10.90" fill="#e7a26f" fill-opacity="0.82"/>
<rect x="142.50" y="387.60" width="6.4" height="28.90" fill="#757de5" fill-opacity="0.82"/>
<rect x="153.15" y="396.45" width="6.4" height="32.45" fill="#d46251" fill-opacity="0.82"/>
<rect x="163.80" y="398.60" width="6.4" height="27.60" fill="#26b085" fill-opacity="0.82"/>
<rect x="174.45" y="392.30" width="6.4" height="35.60" fill="#a570e3" fill-opacity="0.82"/>
<rect x="185.10" y="411.10" width="6.4" height="23.80" fill="#e7a26f" fill-opacity="0.82"/>
<rect x="209.30" y="377.45" width="6.4" height="34.65" fill="#757de5" fill-opacity="0.82"/>
<rect x="219.95" y="389.95" width="6.4" height="32.50" fill="#d46251" fill-opacity="0.82"/>
<rect x="230.60" y="388.70" width="6.4" height="43.00" fill="#26b085" fill-opacity="0.82"/>
<rect x="241.25" y="383.95" width="6.4" height="49.35" fill="#a570e3" fill-opacity="0.82"/>
<rect x="251.90" y="403.95" width="6.4" height="34.75" fill="#e7a26f" fill-opacity="0.82"/>
<rect x="276.10" y="359.20" width="6.4" height="33.00" fill="#757de5" fill-opacity="0.82"/>
<rect x="286.75" y="378.70" width="6.4" height="26.25" fill="#d46251" fill-opacity="0.82"/>
<rect x="297.40" y="374.20" width="6.4" height="41.70" fill="#26b085" fill-opacity="0.82"/>
<rect x="308.05" y="382.45" width="6.4" height="33.75" fill="#a570e3" fill-opacity="0.82"/>
<rect x="318.70" y="403.45" width="6.4" height="25.50" fill="#e7a26f" fill-opacity="0.82"/>
<rect x="342.90" y="335.70" width="6.4" height="33.30" fill="#757de5" fill-opacity="0.82"/>
<rect x="353.55" y="364.50" width="6.4" height="21.45" fill="#d46251" fill-opacity="0.82"/>
<rect x="364.20" y="355.20" width="6.4" height="42.75" fill="#26b085" fill-opacity="0.82"/>
<rect x="374.85" y="355.20" width="6.4" height="45.50" fill="#a570e3" fill-opacity="0.82"/>
<rect x="385.50" y="391.70" width="6.4" height="23.00" fill="#e7a26f" fill-opacity="0.82"/>
<rect x="409.70" y="239.50" width="6.4" height="100.90" fill="#757de5" fill-opacity="0.82"/>
<rect x="420.35" y="278.20" width="6.4" height="84.25" fill="#d46251" fill-opacity="0.82"/>
<rect x="431.00" y="290.95" width="6.4" height="123.85" fill="#26b085" fill-opacity="0.82"/>
<rect x="441.65" y="341.00" width="6.4" height="75.30" fill="#a570e3" fill-opacity="0.82"/>
<rect x="452.30" y="385.95" width="6.4" height="39.65" fill="#e7a26f" fill-opacity="0.82"/>
<rect x="476.50" y="367.50" width="6.4" height="25.00" fill="#757de5" fill-opacity="0.82"/>
<rect x="487.15" y="381.20" width="6.4" height="28.80" fill="#d46251" fill-opacity="0.82"/>
<rect x="497.80" y="378.60" width="6.4" height="46.40" fill="#26b085" fill-opacity="0.82"/>
<rect x="508.45" y="391.60" width="6.4" height="35.80" fill="#a570e3" fill-opacity="0.82"/>
<rect x="519.10" y="412.80" width="6.4" height="21.00" fill="#e7a26f" fill-opacity="0.82"/>
<rect x="543.30" y="342.70" width="6.4" height="38.50" fill="#757de5" fill-opacity="0.82"/>
<rect x="553.95" y="365.10" width="6.4" height="31.10" fill="#d46251" fill-opacity="0.82"/>
<rect x="564.60" y="361.40" width="6.4" height="56.00" fill="#26b085" fill-opacity="0.82"/>
<rect x="575.25" y="359.90" width="6.4" height="59.30" fill="#a570e3" fill-opacity="0.82"/>
<rect x="585.90" y="389.20" width="6.4" height="38.25" fill="#e7a26f" fill-opacity="0.82"/>
<rect x="610.10" y="357.70" width="6.4" height="35.80" fill="#757de5" fill-opacity="0.82"/>
<rect x="620.75" y="380.20" width="6.4" height="27.50" fill="#d46251" fill-opacity="0.82"/>
<rect x="631.40" y="378.20" width="6.4" height="41.70" fill="#26b085" fill-opacity="0.82"/>
<rect x="642.05" y="401.90" width="6.4" height="25.00" fill="#a570e3" fill-opacity="0.82"/>
<rect x="652.70" y="418.50" width="6.4" height="16.40" fill="#e7a26f" fill-opacity="0.82"/>
<circle cx="76.90" cy="411.30" r="2.30" fill="#5d67f5" stroke="#fff" stroke-width="1.90" paint-order="stroke"/>
<rect x="85.25" y="412.15" width="4.50" height="4.50" fill="#5d67f5" stroke="#fff" stroke-width="1.90" paint-order="stroke"/>
<polygon points="71.10,414.40 71.10,419.60 75.50,417.00" fill="#5d67f5" stroke="#fff" stroke-width="1.90" stroke-linejoin="round" paint-order="stroke"/>
<polygon points="78.90,418.60 84.10,418.60 81.50,414.20" fill="#5d67f5" stroke="#fff" stroke-width="1.90" stroke-linejoin="round" paint-order="stroke"/>
<path d="M77.15,419.85L80.65,423.35M77.15,423.35L80.65,419.85" stroke="#fff" stroke-width="3.25" fill="none" stroke-linecap="square"/><path d="M77.15,419.85L80.65,423.35M77.15,423.35L80.65,419.85" stroke="#5d67f5" stroke-width="1.35" fill="none"/>
<path d="M87.80,414.45L91.30,417.95M87.80,417.95L91.30,414.45" stroke="#fff" stroke-width="3.25" fill="none" stroke-linecap="square"/><path d="M87.80,414.45L91.30,417.95M87.80,417.95L91.30,414.45" stroke="#ea533e" stroke-width="1.35" fill="none"/>
<circle cx="83.40" cy="422.70" r="2.30" fill="#ea533e" stroke="#fff" stroke-width="1.90" paint-order="stroke"/>
<polygon points="86.40,422.50 86.40,427.70 90.80,425.10" fill="#ea533e" stroke="#fff" stroke-width="1.90" stroke-linejoin="round" paint-order="stroke"/>
<circle cx="100.20" cy="417.20" r="2.30" fill="#0fc58c" stroke="#fff" stroke-width="1.90" paint-order="stroke"/>
<rect x="92.95" y="418.25" width="4.50" height="4.50" fill="#0fc58c" stroke="#fff" stroke-width="1.90" paint-order="stroke"/>
<polygon points="97.60,427.20 102.80,427.20 100.20,422.80" fill="#0fc58c" stroke="#fff" stroke-width="1.90" stroke-linejoin="round" paint-order="stroke"/>
<path d="M98.45,431.95L101.95,435.45M98.45,435.45L101.95,431.95" stroke="#fff" stroke-width="3.25" fill="none" stroke-linecap="square"/><path d="M98.45,431.95L101.95,435.45M98.45,435.45L101.95,431.95" stroke="#0fc58c" stroke-width="1.35" fill="none"/>
<rect x="102.35" y="416.55" width="4.50" height="4.50" fill="#a258f4" stroke="#fff" stroke-width="1.90" paint-order="stroke"/>
<polygon points="108.65,418.10 108.65,423.30 113.05,420.70" fill="#a258f4" stroke="#fff" stroke-width="1.90" stroke-linejoin="round" paint-order="stroke"/>
<polygon points="105.70,432.70 110.90,432.70 108.30,428.30" fill="#a258f4" stroke="#fff" stroke-width="1.90" stroke-linejoin="round" paint-order="stroke"/>
<path d="M109.10,433.95L112.60,437.45M109.10,437.45L112.60,433.95" stroke="#fff" stroke-width="3.25" fill="none" stroke-linecap="square"/><path d="M109.10,433.95L112.60,437.45M109.10,437.45L112.60,433.95" stroke="#a258f4" stroke-width="1.35" fill="none"/>
<rect x="112.95" y="426.15" width="4.50" height="4.50" fill="#ff9b50" stroke="#fff" stroke-width="1.90" paint-order="stroke"/>
<polygon points="119.30,427.00 119.30,432.20 123.70,429.60" fill="#ff9b50" stroke="#fff" stroke-width="1.90" stroke-linejoin="round" paint-order="stroke"/>
<circle cx="116.50" cy="436.90" r="2.30" fill="#ff9b50" stroke="#fff" stroke-width="1.90" paint-order="stroke"/>
<polygon points="122.20,438.20 127.40,438.20 124.80,433.80" fill="#ff9b50" stroke="#fff" stroke-width="1.90" stroke-linejoin="round" paint-order="stroke"/>
<path d="M119.75,438.75L123.25,442.25M119.75,442.25L123.25,438.75" stroke="#fff" stroke-width="3.25" fill="none" stroke-linecap="square"/><path d="M119.75,438.75L123.25,442.25M119.75,442.25L123.25,438.75" stroke="#ff9b50" stroke-width="1.35" fill="none"/>
<rect x="139.65" y="383.95" width="4.50" height="4.50" fill="#5d67f5" stroke="#fff" stroke-width="1.90" paint-order="stroke"/>
<path d="M143.95,389.25L147.45,392.75M143.95,392.75L147.45,389.25" stroke="#fff" stroke-width="3.25" fill="none" stroke-linecap="square"/><path d="M143.95,389.25L147.45,392.75M143.95,392.75L147.45,389.25" stroke="#5d67f5" stroke-width="1.35" fill="none"/>
<polygon points="143.50,403.10 143.50,408.30 147.90,405.70" fill="#5d67f5" stroke="#fff" stroke-width="1.90" stroke-linejoin="round" paint-order="stroke"/>
<polygon points="136.80,417.30 142.00,417.30 139.40,412.90" fill="#5d67f5" stroke="#fff" stroke-width="1.90" stroke-linejoin="round" paint-order="stroke"/>
<circle cx="145.70" cy="416.50" r="2.30" fill="#5d67f5" stroke="#fff" stroke-width="1.90" paint-order="stroke"/>
<rect x="154.10" y="394.20" width="4.50" height="4.50" fill="#ea533e" stroke="#fff" stroke-width="1.90" paint-order="stroke"/>
<path d="M154.60,404.45L158.10,407.95M154.60,407.95L158.10,404.45" stroke="#fff" stroke-width="3.25" fill="none" stroke-linecap="square"/><path d="M154.60,404.45L158.10,407.95M154.60,407.95L158.10,404.45" stroke="#ea533e" stroke-width="1.35" fill="none"/>
<polygon points="154.15,409.90 154.15,415.10 158.55,412.50" fill="#ea533e" stroke="#fff" stroke-width="1.90" stroke-linejoin="round" paint-order="stroke"/>
<polygon points="153.75,424.90 158.95,424.90 156.35,420.50" fill="#ea533e" stroke="#fff" stroke-width="1.90" stroke-linejoin="round" paint-order="stroke"/>
<circle cx="156.35" cy="428.90" r="2.30" fill="#ea533e" stroke="#fff" stroke-width="1.90" paint-order="stroke"/>
<rect x="161.25" y="396.35" width="4.50" height="4.50" fill="#0fc58c" stroke="#fff" stroke-width="1.90" paint-order="stroke"/>
<polygon points="164.80,400.90 164.80,406.10 169.20,403.50" fill="#0fc58c" stroke="#fff" stroke-width="1.90" stroke-linejoin="round" paint-order="stroke"/>
<polygon points="158.20,427.40 163.40,427.40 160.80,423.00" fill="#0fc58c" stroke="#fff" stroke-width="1.90" stroke-linejoin="round" paint-order="stroke"/>
<path d="M165.25,424.45L168.75,427.95M165.25,427.95L168.75,424.45" stroke="#fff" stroke-width="3.25" fill="none" stroke-linecap="square"/><path d="M165.25,424.45L168.75,427.95M165.25,427.95L168.75,424.45" stroke="#0fc58c" stroke-width="1.35" fill="none"/>
<circle cx="172.20" cy="423.50" r="2.30" fill="#0fc58c" stroke="#fff" stroke-width="1.90" paint-order="stroke"/>
<rect x="175.40" y="390.05" width="4.50" height="4.50" fill="#a258f4" stroke="#fff" stroke-width="1.90" paint-order="stroke"/>
<polygon points="175.45,409.00 175.45,414.20 179.85,411.60" fill="#a258f4" stroke="#fff" stroke-width="1.90" stroke-linejoin="round" paint-order="stroke"/>
<polygon points="168.50,422.70 173.70,422.70 171.10,418.30" fill="#a258f4" stroke="#fff" stroke-width="1.90" stroke-linejoin="round" paint-order="stroke"/>
<circle cx="177.65" cy="420.80" r="2.30" fill="#a258f4" stroke="#fff" stroke-width="1.90" paint-order="stroke"/>
<path d="M175.90,426.15L179.40,429.65M175.90,429.65L179.40,426.15" stroke="#fff" stroke-width="3.25" fill="none" stroke-linecap="square"/><path d="M175.90,426.15L179.40,429.65M175.90,429.65L179.40,426.15" stroke="#a258f4" stroke-width="1.35" fill="none"/>
<rect x="186.05" y="408.85" width="4.50" height="4.50" fill="#ff9b50" stroke="#fff" stroke-width="1.90" paint-order="stroke"/>
<polygon points="186.10,420.70 186.10,425.90 190.50,423.30" fill="#ff9b50" stroke="#fff" stroke-width="1.90" stroke-linejoin="round" paint-order="stroke"/>
<circle cx="181.60" cy="434.90" r="2.30" fill="#ff9b50" stroke="#fff" stroke-width="1.90" paint-order="stroke"/>
<path d="M186.55,433.15L190.05,436.65M186.55,436.65L190.05,433.15" stroke="#fff" stroke-width="3.25" fill="none" stroke-linecap="square"/><path d="M186.55,433.15L190.05,436.65M186.55,436.65L190.05,433.15" stroke="#ff9b50" stroke-width="1.35" fill="none"/>
<polygon points="192.00,436.30 197.20,436.30 194.60,431.90" fill="#ff9b50" stroke="#fff" stroke-width="1.90" stroke-linejoin="round" paint-order="stroke"/>
<rect x="210.25" y="375.20" width="4.50" height="4.50" fill="#5d67f5" stroke="#fff" stroke-width="1.90" paint-order="stroke"/>
<polygon points="204.30,394.85 204.30,400.05 208.70,397.45" fill="#5d67f5" stroke="#fff" stroke-width="1.90" stroke-linejoin="round" paint-order="stroke"/>
<polygon points="209.90,404.30 215.10,404.30 212.50,399.90" fill="#5d67f5" stroke="#fff" stroke-width="1.90" stroke-linejoin="round" paint-order="stroke"/>
<path d="M206.00,405.35L209.50,408.85M206.00,408.85L209.50,405.35" stroke="#fff" stroke-width="3.25" fill="none" stroke-linecap="square"/><path d="M206.00,405.35L209.50,408.85M206.00,408.85L209.50,405.35" stroke="#5d67f5" stroke-width="1.35" fill="none"/>
<circle cx="212.50" cy="412.10" r="2.30" fill="#5d67f5" stroke="#fff" stroke-width="1.90" paint-order="stroke"/>
<rect x="220.90" y="387.70" width="4.50" height="4.50" fill="#ea533e" stroke="#fff" stroke-width="1.90" paint-order="stroke"/>
<polygon points="213.90,416.15 219.10,416.15 216.50,411.75" fill="#ea533e" stroke="#fff" stroke-width="1.90" stroke-linejoin="round" paint-order="stroke"/>
<path d="M221.40,412.20L224.90,415.70M221.40,415.70L224.90,412.20" stroke="#fff" stroke-width="3.25" fill="none" stroke-linecap="square"/><path d="M221.40,412.20L224.90,415.70M221.40,415.70L224.90,412.20" stroke="#ea533e" stroke-width="1.35" fill="none"/>
<polygon points="226.55,408.60 226.55,413.80 230.95,411.20" fill="#ea533e" stroke="#fff" stroke-width="1.90" stroke-linejoin="round" paint-order="stroke"/>
<circle cx="223.15" cy="422.45" r="2.30" fill="#ea533e" stroke="#fff" stroke-width="1.90" paint-order="stroke"/>
<rect x="231.55" y="386.45" width="4.50" height="4.50" fill="#0fc58c" stroke="#fff" stroke-width="1.90" paint-order="stroke"/>
<polygon points="231.60,396.60 231.60,401.80 236.00,399.20" fill="#0fc58c" stroke="#fff" stroke-width="1.90" stroke-linejoin="round" paint-order="stroke"/>
<polygon points="226.40,418.00 231.60,418.00 229.00,413.60" fill="#0fc58c" stroke="#fff" stroke-width="1.90" stroke-linejoin="round" paint-order="stroke"/>
<circle cx="233.80" cy="418.95" r="2.30" fill="#0fc58c" stroke="#fff" stroke-width="1.90" paint-order="stroke"/>
<path d="M232.05,429.95L235.55,433.45M232.05,433.45L235.55,429.95" stroke="#fff" stroke-width="3.25" fill="none" stroke-linecap="square"/><path d="M232.05,429.95L235.55,433.45M232.05,433.45L235.55,429.95" stroke="#0fc58c" stroke-width="1.35" fill="none"/>
<rect x="242.20" y="381.70" width="4.50" height="4.50" fill="#a258f4" stroke="#fff" stroke-width="1.90" paint-order="stroke"/>
<polygon points="242.25,400.35 242.25,405.55 246.65,402.95" fill="#a258f4" stroke="#fff" stroke-width="1.90" stroke-linejoin="round" paint-order="stroke"/>
<circle cx="238.00" cy="417.70" r="2.30" fill="#a258f4" stroke="#fff" stroke-width="1.90" paint-order="stroke"/>
<polygon points="241.85,422.15 247.05,422.15 244.45,417.75" fill="#a258f4" stroke="#fff" stroke-width="1.90" stroke-linejoin="round" paint-order="stroke"/>
<path d="M242.70,431.55L246.20,435.05M242.70,435.05L246.20,431.55" stroke="#fff" stroke-width="3.25" fill="none" stroke-linecap="square"/><path d="M242.70,431.55L246.20,435.05M242.70,435.05L246.20,431.55" stroke="#a258f4" stroke-width="1.35" fill="none"/>
<rect x="252.85" y="401.70" width="4.50" height="4.50" fill="#ff9b50" stroke="#fff" stroke-width="1.90" paint-order="stroke"/>
<polygon points="252.90,415.70 252.90,420.90 257.30,418.30" fill="#ff9b50" stroke="#fff" stroke-width="1.90" stroke-linejoin="round" paint-order="stroke"/>
<circle cx="249.00" cy="429.95" r="2.30" fill="#ff9b50" stroke="#fff" stroke-width="1.90" paint-order="stroke"/>
<polygon points="252.50,433.65 257.70,433.65 255.10,429.25" fill="#ff9b50" stroke="#fff" stroke-width="1.90" stroke-linejoin="round" paint-order="stroke"/>
<path d="M253.35,436.95L256.85,440.45M253.35,440.45L256.85,436.95" stroke="#fff" stroke-width="3.25" fill="none" stroke-linecap="square"/><path d="M253.35,436.95L256.85,440.45M253.35,440.45L256.85,436.95" stroke="#ff9b50" stroke-width="1.35" fill="none"/>
<rect x="271.00" y="356.20" width="4.50" height="4.50" fill="#5d67f5" stroke="#fff" stroke-width="1.90" paint-order="stroke"/>
<path d="M277.55,359.70L281.05,363.20M277.55,363.20L281.05,359.70" stroke="#fff" stroke-width="3.25" fill="none" stroke-linecap="square"/><path d="M277.55,359.70L281.05,363.20M277.55,363.20L281.05,359.70" stroke="#5d67f5" stroke-width="1.35" fill="none"/>
<polygon points="281.15,389.90 286.35,389.90 283.75,385.50" fill="#5d67f5" stroke="#fff" stroke-width="1.90" stroke-linejoin="round" paint-order="stroke"/>
<polygon points="269.55,387.80 269.55,393.00 273.95,390.40" fill="#5d67f5" stroke="#fff" stroke-width="1.90" stroke-linejoin="round" paint-order="stroke"/>
<circle cx="279.30" cy="392.20" r="2.30" fill="#5d67f5" stroke="#fff" stroke-width="1.90" paint-order="stroke"/>
<rect x="287.70" y="376.45" width="4.50" height="4.50" fill="#ea533e" stroke="#fff" stroke-width="1.90" paint-order="stroke"/>
<path d="M288.20,389.25L291.70,392.75M288.20,392.75L291.70,389.25" stroke="#fff" stroke-width="3.25" fill="none" stroke-linecap="square"/><path d="M288.20,389.25L291.70,392.75M288.20,392.75L291.70,389.25" stroke="#ea533e" stroke-width="1.35" fill="none"/>
<polygon points="287.35,400.10 292.55,400.10 289.95,395.70" fill="#ea533e" stroke="#fff" stroke-width="1.90" stroke-linejoin="round" paint-order="stroke"/>
<polygon points="280.05,401.60 280.05,406.80 284.45,404.20" fill="#ea533e" stroke="#fff" stroke-width="1.90" stroke-linejoin="round" paint-order="stroke"/>
<circle cx="289.95" cy="404.95" r="2.30" fill="#ea533e" stroke="#fff" stroke-width="1.90" paint-order="stroke"/>
<rect x="298.35" y="371.95" width="4.50" height="4.50" fill="#0fc58c" stroke="#fff" stroke-width="1.90" paint-order="stroke"/>
<polygon points="298.40,391.10 298.40,396.30 302.80,393.70" fill="#0fc58c" stroke="#fff" stroke-width="1.90" stroke-linejoin="round" paint-order="stroke"/>
<circle cx="295.75" cy="398.20" r="2.30" fill="#0fc58c" stroke="#fff" stroke-width="1.90" paint-order="stroke"/>
<polygon points="298.00,404.90 303.20,404.90 300.60,400.50" fill="#0fc58c" stroke="#fff" stroke-width="1.90" stroke-linejoin="round" paint-order="stroke"/>
<path d="M298.85,414.15L302.35,417.65M298.85,417.65L302.35,414.15" stroke="#fff" stroke-width="3.25" fill="none" stroke-linecap="square"/><path d="M298.85,414.15L302.35,417.65M298.85,417.65L302.35,414.15" stroke="#0fc58c" stroke-width="1.35" fill="none"/>
<rect x="309.00" y="380.20" width="4.50" height="4.50" fill="#a258f4" stroke="#fff" stroke-width="1.90" paint-order="stroke"/>
<polygon points="309.05,401.60 309.05,406.80 313.45,404.20" fill="#a258f4" stroke="#fff" stroke-width="1.90" stroke-linejoin="round" paint-order="stroke"/>
<circle cx="315.00" cy="408.70" r="2.30" fill="#a258f4" stroke="#fff" stroke-width="1.90" paint-order="stroke"/>
<polygon points="305.90,413.15 311.10,413.15 308.50,408.75" fill="#a258f4" stroke="#fff" stroke-width="1.90" stroke-linejoin="round" paint-order="stroke"/>
<path d="M309.50,414.45L313.00,417.95M309.50,417.95L313.00,414.45" stroke="#fff" stroke-width="3.25" fill="none" stroke-linecap="square"/><path d="M309.50,414.45L313.00,417.95M309.50,417.95L313.00,414.45" stroke="#a258f4" stroke-width="1.35" fill="none"/>
<rect x="319.65" y="401.20" width="4.50" height="4.50" fill="#ff9b50" stroke="#fff" stroke-width="1.90" paint-order="stroke"/>
<polygon points="319.70,409.85 319.70,415.05 324.10,412.45" fill="#ff9b50" stroke="#fff" stroke-width="1.90" stroke-linejoin="round" paint-order="stroke"/>
<circle cx="321.90" cy="421.45" r="2.30" fill="#ff9b50" stroke="#fff" stroke-width="1.90" paint-order="stroke"/>
<path d="M313.95,423.75L317.45,427.25M313.95,427.25L317.45,423.75" stroke="#fff" stroke-width="3.25" fill="none" stroke-linecap="square"/><path d="M313.95,423.75L317.45,427.25M313.95,427.25L317.45,423.75" stroke="#ff9b50" stroke-width="1.35" fill="none"/>
<polygon points="319.30,431.15 324.50,431.15 321.90,426.75" fill="#ff9b50" stroke="#fff" stroke-width="1.90" stroke-linejoin="round" paint-order="stroke"/>
<circle cx="346.10" cy="335.70" r="2.30" fill="#5d67f5" stroke="#fff" stroke-width="1.90" paint-order="stroke"/>
<path d="M347.00,354.20L350.50,357.70M347.00,357.70L350.50,354.20" stroke="#fff" stroke-width="3.25" fill="none" stroke-linecap="square"/><path d="M347.00,354.20L350.50,357.70M347.00,357.70L350.50,354.20" stroke="#5d67f5" stroke-width="1.35" fill="none"/>
<polygon points="336.70,363.70 341.90,363.70 339.30,359.30" fill="#5d67f5" stroke="#fff" stroke-width="1.90" stroke-linejoin="round" paint-order="stroke"/>
<polygon points="343.90,358.90 343.90,364.10 348.30,361.50" fill="#5d67f5" stroke="#fff" stroke-width="1.90" stroke-linejoin="round" paint-order="stroke"/>
<rect x="343.85" y="366.75" width="4.50" height="4.50" fill="#5d67f5" stroke="#fff" stroke-width="1.90" paint-order="stroke"/>
<circle cx="356.75" cy="364.50" r="2.30" fill="#ea533e" stroke="#fff" stroke-width="1.90" paint-order="stroke"/>
<path d="M355.00,374.75L358.50,378.25M355.00,378.25L358.50,374.75" stroke="#fff" stroke-width="3.25" fill="none" stroke-linecap="square"/><path d="M355.00,374.75L358.50,378.25M355.00,378.25L358.50,374.75" stroke="#ea533e" stroke-width="1.35" fill="none"/>
<polygon points="354.55,378.40 354.55,383.60 358.95,381.00" fill="#ea533e" stroke="#fff" stroke-width="1.90" stroke-linejoin="round" paint-order="stroke"/>
<polygon points="348.40,385.60 353.60,385.60 351.00,381.20" fill="#ea533e" stroke="#fff" stroke-width="1.90" stroke-linejoin="round" paint-order="stroke"/>
<rect x="354.50" y="383.70" width="4.50" height="4.50" fill="#ea533e" stroke="#fff" stroke-width="1.90" paint-order="stroke"/>
<circle cx="367.40" cy="355.20" r="2.30" fill="#0fc58c" stroke="#fff" stroke-width="1.90" paint-order="stroke"/>
<polygon points="365.20,365.35 365.20,370.55 369.60,367.95" fill="#0fc58c" stroke="#fff" stroke-width="1.90" stroke-linejoin="round" paint-order="stroke"/>
<polygon points="358.60,387.10 363.80,387.10 361.20,382.70" fill="#0fc58c" stroke="#fff" stroke-width="1.90" stroke-linejoin="round" paint-order="stroke"/>
<rect x="365.15" y="382.20" width="4.50" height="4.50" fill="#0fc58c" stroke="#fff" stroke-width="1.90" paint-order="stroke"/>
<path d="M365.65,396.20L369.15,399.70M365.65,399.70L369.15,396.20" stroke="#fff" stroke-width="3.25" fill="none" stroke-linecap="square"/><path d="M365.65,396.20L369.15,399.70M365.65,399.70L369.15,396.20" stroke="#0fc58c" stroke-width="1.35" fill="none"/>
<circle cx="378.05" cy="355.20" r="2.30" fill="#a258f4" stroke="#fff" stroke-width="1.90" paint-order="stroke"/>
<rect x="369.45" y="374.25" width="4.50" height="4.50" fill="#a258f4" stroke="#fff" stroke-width="1.90" paint-order="stroke"/>
<polygon points="375.45,379.90 380.65,379.90 378.05,375.50" fill="#a258f4" stroke="#fff" stroke-width="1.90" stroke-linejoin="round" paint-order="stroke"/>
<polygon points="381.50,372.85 381.50,378.05 385.90,375.45" fill="#a258f4" stroke="#fff" stroke-width="1.90" stroke-linejoin="round" paint-order="stroke"/>
<path d="M376.30,398.95L379.80,402.45M376.30,402.45L379.80,398.95" stroke="#fff" stroke-width="3.25" fill="none" stroke-linecap="square"/><path d="M376.30,398.95L379.80,402.45M376.30,402.45L379.80,398.95" stroke="#a258f4" stroke-width="1.35" fill="none"/>
<circle cx="388.70" cy="391.70" r="2.30" fill="#ff9b50" stroke="#fff" stroke-width="1.90" paint-order="stroke"/>
<rect x="380.25" y="402.45" width="4.50" height="4.50" fill="#ff9b50" stroke="#fff" stroke-width="1.90" paint-order="stroke"/>
<polygon points="386.50,403.10 386.50,408.30 390.90,405.70" fill="#ff9b50" stroke="#fff" stroke-width="1.90" stroke-linejoin="round" paint-order="stroke"/>
<polygon points="379.90,416.40 385.10,416.40 382.50,412.00" fill="#ff9b50" stroke="#fff" stroke-width="1.90" stroke-linejoin="round" paint-order="stroke"/>
<path d="M386.95,412.95L390.45,416.45M386.95,416.45L390.45,412.95" stroke="#fff" stroke-width="3.25" fill="none" stroke-linecap="square"/><path d="M386.95,412.95L390.45,416.45M386.95,416.45L390.45,412.95" stroke="#ff9b50" stroke-width="1.35" fill="none"/>
<polygon points="410.30,241.70 415.50,241.70 412.90,237.30" fill="#5d67f5" stroke="#fff" stroke-width="1.90" stroke-linejoin="round" paint-order="stroke"/>
<circle cx="412.90" cy="274.45" r="2.30" fill="#5d67f5" stroke="#fff" stroke-width="1.90" paint-order="stroke"/>
<rect x="410.65" y="312.95" width="4.50" height="4.50" fill="#5d67f5" stroke="#fff" stroke-width="1.90" paint-order="stroke"/>
<polygon points="410.70,326.85 410.70,332.05 415.10,329.45" fill="#5d67f5" stroke="#fff" stroke-width="1.90" stroke-linejoin="round" paint-order="stroke"/>
<path d="M411.15,338.65L414.65,342.15M411.15,342.15L414.65,338.65" stroke="#fff" stroke-width="3.25" fill="none" stroke-linecap="square"/><path d="M411.15,338.65L414.65,342.15M411.15,342.15L414.65,338.65" stroke="#5d67f5" stroke-width="1.35" fill="none"/>
<polygon points="420.95,280.40 426.15,280.40 423.55,276.00" fill="#ea533e" stroke="#fff" stroke-width="1.90" stroke-linejoin="round" paint-order="stroke"/>
<circle cx="423.55" cy="296.95" r="2.30" fill="#ea533e" stroke="#fff" stroke-width="1.90" paint-order="stroke"/>
<rect x="421.30" y="330.20" width="4.50" height="4.50" fill="#ea533e" stroke="#fff" stroke-width="1.90" paint-order="stroke"/>
<polygon points="421.35,350.40 421.35,355.60 425.75,353.00" fill="#ea533e" stroke="#fff" stroke-width="1.90" stroke-linejoin="round" paint-order="stroke"/>
<path d="M421.80,360.70L425.30,364.20M421.80,364.20L425.30,360.70" stroke="#fff" stroke-width="3.25" fill="none" stroke-linecap="square"/><path d="M421.80,360.70L425.30,364.20M421.80,364.20L425.30,360.70" stroke="#ea533e" stroke-width="1.35" fill="none"/>
<polygon points="431.60,293.15 436.80,293.15 434.20,288.75" fill="#0fc58c" stroke="#fff" stroke-width="1.90" stroke-linejoin="round" paint-order="stroke"/>
<circle cx="434.20" cy="300.95" r="2.30" fill="#0fc58c" stroke="#fff" stroke-width="1.90" paint-order="stroke"/>
<polygon points="425.10,332.40 425.10,337.60 429.50,335.00" fill="#0fc58c" stroke="#fff" stroke-width="1.90" stroke-linejoin="round" paint-order="stroke"/>
<rect x="431.95" y="335.15" width="4.50" height="4.50" fill="#0fc58c" stroke="#fff" stroke-width="1.90" paint-order="stroke"/>
<path d="M432.45,413.05L435.95,416.55M432.45,416.55L435.95,413.05" stroke="#fff" stroke-width="3.25" fill="none" stroke-linecap="square"/><path d="M432.45,413.05L435.95,416.55M432.45,416.55L435.95,413.05" stroke="#0fc58c" stroke-width="1.35" fill="none"/>
<polygon points="438.20,343.20 443.40,343.20 440.80,338.80" fill="#a258f4" stroke="#fff" stroke-width="1.90" stroke-linejoin="round" paint-order="stroke"/>
<polygon points="442.65,342.60 442.65,347.80 447.05,345.20" fill="#a258f4" stroke="#fff" stroke-width="1.90" stroke-linejoin="round" paint-order="stroke"/>
<circle cx="439.00" cy="352.40" r="2.30" fill="#a258f4" stroke="#fff" stroke-width="1.90" paint-order="stroke"/>
<rect x="442.60" y="353.15" width="4.50" height="4.50" fill="#a258f4" stroke="#fff" stroke-width="1.90" paint-order="stroke"/>
<path d="M443.10,414.55L446.60,418.05M443.10,418.05L446.60,414.55" stroke="#fff" stroke-width="3.25" fill="none" stroke-linecap="square"/><path d="M443.10,414.55L446.60,418.05M443.10,418.05L446.60,414.55" stroke="#a258f4" stroke-width="1.35" fill="none"/>
<polygon points="452.90,388.15 458.10,388.15 455.50,383.75" fill="#ff9b50" stroke="#fff" stroke-width="1.90" stroke-linejoin="round" paint-order="stroke"/>
<rect x="458.55" y="387.20" width="4.50" height="4.50" fill="#ff9b50" stroke="#fff" stroke-width="1.90" paint-order="stroke"/>
<polygon points="446.10,389.80 446.10,395.00 450.50,392.40" fill="#ff9b50" stroke="#fff" stroke-width="1.90" stroke-linejoin="round" paint-order="stroke"/>
<circle cx="455.50" cy="393.55" r="2.30" fill="#ff9b50" stroke="#fff" stroke-width="1.90" paint-order="stroke"/>
<path d="M453.75,423.85L457.25,427.35M453.75,427.35L457.25,423.85" stroke="#fff" stroke-width="3.25" fill="none" stroke-linecap="square"/><path d="M453.75,423.85L457.25,427.35M453.75,427.35L457.25,423.85" stroke="#ff9b50" stroke-width="1.35" fill="none"/>
<rect x="471.05" y="363.95" width="4.50" height="4.50" fill="#5d67f5" stroke="#fff" stroke-width="1.90" paint-order="stroke"/>
<polygon points="477.10,369.70 482.30,369.70 479.70,365.30" fill="#5d67f5" stroke="#fff" stroke-width="1.90" stroke-linejoin="round" paint-order="stroke"/>
<polygon points="477.50,371.30 477.50,376.50 481.90,373.90" fill="#5d67f5" stroke="#fff" stroke-width="1.90" stroke-linejoin="round" paint-order="stroke"/>
<path d="M477.95,380.45L481.45,383.95M477.95,383.95L481.45,380.45" stroke="#fff" stroke-width="3.25" fill="none" stroke-linecap="square"/><path d="M477.95,380.45L481.45,383.95M477.95,383.95L481.45,380.45" stroke="#5d67f5" stroke-width="1.35" fill="none"/>
<circle cx="479.70" cy="392.50" r="2.30" fill="#5d67f5" stroke="#fff" stroke-width="1.90" paint-order="stroke"/>
<polygon points="481.70,383.10 486.90,383.10 484.30,378.70" fill="#ea533e" stroke="#fff" stroke-width="1.90" stroke-linejoin="round" paint-order="stroke"/>
<rect x="488.10" y="378.95" width="4.50" height="4.50" fill="#ea533e" stroke="#fff" stroke-width="1.90" paint-order="stroke"/>
<polygon points="481.80,392.90 481.80,398.10 486.20,395.50" fill="#ea533e" stroke="#fff" stroke-width="1.90" stroke-linejoin="round" paint-order="stroke"/>
<path d="M488.60,396.75L492.10,400.25M488.60,400.25L492.10,396.75" stroke="#fff" stroke-width="3.25" fill="none" stroke-linecap="square"/><path d="M488.60,396.75L492.10,400.25M488.60,400.25L492.10,396.75" stroke="#ea533e" stroke-width="1.35" fill="none"/>
<circle cx="490.35" cy="410.00" r="2.30" fill="#ea533e" stroke="#fff" stroke-width="1.90" paint-order="stroke"/>
<polygon points="498.80,376.00 498.80,381.20 503.20,378.60" fill="#0fc58c" stroke="#fff" stroke-width="1.90" stroke-linejoin="round" paint-order="stroke"/>
<rect x="493.95" y="380.95" width="4.50" height="4.50" fill="#0fc58c" stroke="#fff" stroke-width="1.90" paint-order="stroke"/>
<polygon points="498.40,391.40 503.60,391.40 501.00,387.00" fill="#0fc58c" stroke="#fff" stroke-width="1.90" stroke-linejoin="round" paint-order="stroke"/>
<circle cx="501.00" cy="401.95" r="2.30" fill="#0fc58c" stroke="#fff" stroke-width="1.90" paint-order="stroke"/>
<path d="M499.25,423.25L502.75,426.75M499.25,426.75L502.75,423.25" stroke="#fff" stroke-width="3.25" fill="none" stroke-linecap="square"/><path d="M499.25,423.25L502.75,426.75M499.25,426.75L502.75,423.25" stroke="#0fc58c" stroke-width="1.35" fill="none"/>
<rect x="503.15" y="387.65" width="4.50" height="4.50" fill="#a258f4" stroke="#fff" stroke-width="1.90" paint-order="stroke"/>
<polygon points="509.45,389.00 509.45,394.20 513.85,391.60" fill="#a258f4" stroke="#fff" stroke-width="1.90" stroke-linejoin="round" paint-order="stroke"/>
<polygon points="509.05,403.40 514.25,403.40 511.65,399.00" fill="#a258f4" stroke="#fff" stroke-width="1.90" stroke-linejoin="round" paint-order="stroke"/>
<circle cx="511.65" cy="413.20" r="2.30" fill="#a258f4" stroke="#fff" stroke-width="1.90" paint-order="stroke"/>
<path d="M509.90,425.65L513.40,429.15M509.90,429.15L513.40,425.65" stroke="#fff" stroke-width="3.25" fill="none" stroke-linecap="square"/><path d="M509.90,425.65L513.40,429.15M509.90,429.15L513.40,425.65" stroke="#a258f4" stroke-width="1.35" fill="none"/>
<rect x="520.05" y="410.55" width="4.50" height="4.50" fill="#ff9b50" stroke="#fff" stroke-width="1.90" paint-order="stroke"/>
<polygon points="513.10,418.70 513.10,423.90 517.50,421.30" fill="#ff9b50" stroke="#fff" stroke-width="1.90" stroke-linejoin="round" paint-order="stroke"/>
<polygon points="519.70,424.70 524.90,424.70 522.30,420.30" fill="#ff9b50" stroke="#fff" stroke-width="1.90" stroke-linejoin="round" paint-order="stroke"/>
<circle cx="516.70" cy="431.20" r="2.30" fill="#ff9b50" stroke="#fff" stroke-width="1.90" paint-order="stroke"/>
<path d="M520.55,432.05L524.05,435.55M520.55,435.55L524.05,432.05" stroke="#fff" stroke-width="3.25" fill="none" stroke-linecap="square"/><path d="M520.55,432.05L524.05,435.55M520.55,435.55L524.05,432.05" stroke="#ff9b50" stroke-width="1.35" fill="none"/>
<circle cx="540.30" cy="339.70" r="2.30" fill="#5d67f5" stroke="#fff" stroke-width="1.90" paint-order="stroke"/>
<rect x="544.25" y="340.45" width="4.50" height="4.50" fill="#5d67f5" stroke="#fff" stroke-width="1.90" paint-order="stroke"/>
<polygon points="543.90,363.60 549.10,363.60 546.50,359.20" fill="#5d67f5" stroke="#fff" stroke-width="1.90" stroke-linejoin="round" paint-order="stroke"/>
<path d="M544.75,367.35L548.25,370.85M544.75,370.85L548.25,367.35" stroke="#fff" stroke-width="3.25" fill="none" stroke-linecap="square"/><path d="M544.75,367.35L548.25,370.85M544.75,370.85L548.25,367.35" stroke="#5d67f5" stroke-width="1.35" fill="none"/>
<polygon points="544.30,378.60 544.30,383.80 548.70,381.20" fill="#5d67f5" stroke="#fff" stroke-width="1.90" stroke-linejoin="round" paint-order="stroke"/>
<rect x="549.75" y="358.25" width="4.50" height="4.50" fill="#ea533e" stroke="#fff" stroke-width="1.90" paint-order="stroke"/>
<circle cx="557.15" cy="365.10" r="2.30" fill="#ea533e" stroke="#fff" stroke-width="1.90" paint-order="stroke"/>
<polygon points="554.55,380.40 559.75,380.40 557.15,376.00" fill="#ea533e" stroke="#fff" stroke-width="1.90" stroke-linejoin="round" paint-order="stroke"/>
<path d="M549.05,392.30L552.55,395.80M549.05,395.80L552.55,392.30" stroke="#fff" stroke-width="3.25" fill="none" stroke-linecap="square"/><path d="M549.05,392.30L552.55,395.80M549.05,395.80L552.55,392.30" stroke="#ea533e" stroke-width="1.35" fill="none"/>
<polygon points="554.95,393.60 554.95,398.80 559.35,396.20" fill="#ea533e" stroke="#fff" stroke-width="1.90" stroke-linejoin="round" paint-order="stroke"/>
<rect x="558.95" y="358.25" width="4.50" height="4.50" fill="#0fc58c" stroke="#fff" stroke-width="1.90" paint-order="stroke"/>
<circle cx="567.80" cy="361.40" r="2.30" fill="#0fc58c" stroke="#fff" stroke-width="1.90" paint-order="stroke"/>
<polygon points="558.60,385.60 563.80,385.60 561.20,381.20" fill="#0fc58c" stroke="#fff" stroke-width="1.90" stroke-linejoin="round" paint-order="stroke"/>
<polygon points="565.60,381.70 565.60,386.90 570.00,384.30" fill="#0fc58c" stroke="#fff" stroke-width="1.90" stroke-linejoin="round" paint-order="stroke"/>
<path d="M566.05,415.65L569.55,419.15M566.05,419.15L569.55,415.65" stroke="#fff" stroke-width="3.25" fill="none" stroke-linecap="square"/><path d="M566.05,415.65L569.55,419.15M566.05,419.15L569.55,415.65" stroke="#0fc58c" stroke-width="1.35" fill="none"/>
<rect x="576.20" y="357.65" width="4.50" height="4.50" fill="#a258f4" stroke="#fff" stroke-width="1.90" paint-order="stroke"/>
<circle cx="582.00" cy="387.45" r="2.30" fill="#a258f4" stroke="#fff" stroke-width="1.90" paint-order="stroke"/>
<polygon points="576.25,388.60 576.25,393.80 580.65,391.20" fill="#a258f4" stroke="#fff" stroke-width="1.90" stroke-linejoin="round" paint-order="stroke"/>
<polygon points="575.85,400.30 581.05,400.30 578.45,395.90" fill="#a258f4" stroke="#fff" stroke-width="1.90" stroke-linejoin="round" paint-order="stroke"/>
<path d="M576.70,417.45L580.20,420.95M576.70,420.95L580.20,417.45" stroke="#fff" stroke-width="3.25" fill="none" stroke-linecap="square"/><path d="M576.70,417.45L580.20,420.95M576.70,420.95L580.20,417.45" stroke="#a258f4" stroke-width="1.35" fill="none"/>
<rect x="586.85" y="386.95" width="4.50" height="4.50" fill="#ff9b50" stroke="#fff" stroke-width="1.90" paint-order="stroke"/>
<polygon points="586.90,411.60 586.90,416.80 591.30,414.20" fill="#ff9b50" stroke="#fff" stroke-width="1.90" stroke-linejoin="round" paint-order="stroke"/>
<circle cx="594.80" cy="414.20" r="2.30" fill="#ff9b50" stroke="#fff" stroke-width="1.90" paint-order="stroke"/>
<polygon points="586.50,422.70 591.70,422.70 589.10,418.30" fill="#ff9b50" stroke="#fff" stroke-width="1.90" stroke-linejoin="round" paint-order="stroke"/>
<path d="M587.35,425.70L590.85,429.20M587.35,429.20L590.85,425.70" stroke="#fff" stroke-width="3.25" fill="none" stroke-linecap="square"/><path d="M587.35,425.70L590.85,429.20M587.35,429.20L590.85,425.70" stroke="#ff9b50" stroke-width="1.35" fill="none"/>
<circle cx="613.30" cy="357.70" r="2.30" fill="#5d67f5" stroke="#fff" stroke-width="1.90" paint-order="stroke"/>
<polygon points="610.70,367.40 615.90,367.40 613.30,363.00" fill="#5d67f5" stroke="#fff" stroke-width="1.90" stroke-linejoin="round" paint-order="stroke"/>
<path d="M611.55,384.25L615.05,387.75M611.55,387.75L615.05,384.25" stroke="#fff" stroke-width="3.25" fill="none" stroke-linecap="square"/><path d="M611.55,384.25L615.05,387.75M611.55,387.75L615.05,384.25" stroke="#5d67f5" stroke-width="1.35" fill="none"/>
<rect x="604.25" y="390.95" width="4.50" height="4.50" fill="#5d67f5" stroke="#fff" stroke-width="1.90" paint-order="stroke"/>
<polygon points="611.10,390.90 611.10,396.10 615.50,393.50" fill="#5d67f5" stroke="#fff" stroke-width="1.90" stroke-linejoin="round" paint-order="stroke"/>
<polygon points="621.35,382.40 626.55,382.40 623.95,378.00" fill="#ea533e" stroke="#fff" stroke-width="1.90" stroke-linejoin="round" paint-order="stroke"/>
<circle cx="623.95" cy="386.00" r="2.30" fill="#ea533e" stroke="#fff" stroke-width="1.90" paint-order="stroke"/>
<rect x="626.75" y="400.95" width="4.50" height="4.50" fill="#ea533e" stroke="#fff" stroke-width="1.90" paint-order="stroke"/>
<path d="M615.55,405.45L619.05,408.95M615.55,408.95L619.05,405.45" stroke="#fff" stroke-width="3.25" fill="none" stroke-linecap="square"/><path d="M615.55,405.45L619.05,408.95M615.55,408.95L619.05,405.45" stroke="#ea533e" stroke-width="1.35" fill="none"/>
<polygon points="621.75,405.10 621.75,410.30 626.15,407.70" fill="#ea533e" stroke="#fff" stroke-width="1.90" stroke-linejoin="round" paint-order="stroke"/>
<circle cx="634.60" cy="378.20" r="2.30" fill="#0fc58c" stroke="#fff" stroke-width="1.90" paint-order="stroke"/>
<polygon points="632.00,391.60 637.20,391.60 634.60,387.20" fill="#0fc58c" stroke="#fff" stroke-width="1.90" stroke-linejoin="round" paint-order="stroke"/>
<polygon points="632.40,392.60 632.40,397.80 636.80,395.20" fill="#0fc58c" stroke="#fff" stroke-width="1.90" stroke-linejoin="round" paint-order="stroke"/>
<rect x="632.35" y="401.25" width="4.50" height="4.50" fill="#0fc58c" stroke="#fff" stroke-width="1.90" paint-order="stroke"/>
<path d="M632.85,418.15L636.35,421.65M632.85,421.65L636.35,418.15" stroke="#fff" stroke-width="3.25" fill="none" stroke-linecap="square"/><path d="M632.85,418.15L636.35,421.65M632.85,421.65L636.35,418.15" stroke="#0fc58c" stroke-width="1.35" fill="none"/>
<rect x="636.75" y="399.25" width="4.50" height="4.50" fill="#a258f4" stroke="#fff" stroke-width="1.90" paint-order="stroke"/>
<circle cx="645.25" cy="401.90" r="2.30" fill="#a258f4" stroke="#fff" stroke-width="1.90" paint-order="stroke"/>
<polygon points="649.30,397.90 649.30,403.10 653.70,400.50" fill="#a258f4" stroke="#fff" stroke-width="1.90" stroke-linejoin="round" paint-order="stroke"/>
<polygon points="642.65,413.70 647.85,413.70 645.25,409.30" fill="#a258f4" stroke="#fff" stroke-width="1.90" stroke-linejoin="round" paint-order="stroke"/>
<path d="M643.50,425.15L647.00,428.65M643.50,428.65L647.00,425.15" stroke="#fff" stroke-width="3.25" fill="none" stroke-linecap="square"/><path d="M643.50,425.15L647.00,428.65M643.50,428.65L647.00,425.15" stroke="#a258f4" stroke-width="1.35" fill="none"/>
<rect x="653.65" y="416.25" width="4.50" height="4.50" fill="#ff9b50" stroke="#fff" stroke-width="1.90" paint-order="stroke"/>
<polygon points="656.50,423.90 656.50,429.10 660.90,426.50" fill="#ff9b50" stroke="#fff" stroke-width="1.90" stroke-linejoin="round" paint-order="stroke"/>
<circle cx="648.20" cy="425.50" r="2.30" fill="#ff9b50" stroke="#fff" stroke-width="1.90" paint-order="stroke"/>
<polygon points="650.60,431.60 655.80,431.60 653.20,427.20" fill="#ff9b50" stroke="#fff" stroke-width="1.90" stroke-linejoin="round" paint-order="stroke"/>
<path d="M654.15,433.15L657.65,436.65M654.15,436.65L657.65,433.15" stroke="#fff" stroke-width="3.25" fill="none" stroke-linecap="square"/><path d="M654.15,433.15L657.65,436.65M654.15,436.65L657.65,433.15" stroke="#ff9b50" stroke-width="1.35" fill="none"/>
<path d="M66.5,229.2 V450.3 H668.3" stroke="#6e6e6e" stroke-width="1.15" fill="none" stroke-linejoin="round"/>
<line x1="61.6" y1="253.75" x2="66.5" y2="253.75" stroke="#6e6e6e" stroke-width="1.05"/>
<text transform="translate(56.3,257.05) scale(0.93,1)" text-anchor="end" class="tk">+250</text>
<line x1="61.6" y1="281.91" x2="66.5" y2="281.91" stroke="#6e6e6e" stroke-width="1.05"/>
<text transform="translate(56.3,285.21) scale(0.93,1)" text-anchor="end" class="tk">+200</text>
<line x1="61.6" y1="310.07" x2="66.5" y2="310.07" stroke="#6e6e6e" stroke-width="1.05"/>
<text transform="translate(56.3,313.37) scale(0.93,1)" text-anchor="end" class="tk">+150</text>
<line x1="61.6" y1="338.23" x2="66.5" y2="338.23" stroke="#6e6e6e" stroke-width="1.05"/>
<text transform="translate(56.3,341.53) scale(0.93,1)" text-anchor="end" class="tk">+100</text>
<line x1="61.6" y1="366.39" x2="66.5" y2="366.39" stroke="#6e6e6e" stroke-width="1.05"/>
<text transform="translate(56.3,369.69) scale(0.93,1)" text-anchor="end" class="tk">+50</text>
<line x1="61.6" y1="394.55" x2="66.5" y2="394.55" stroke="#6e6e6e" stroke-width="1.05"/>
<text transform="translate(56.3,397.85) scale(0.93,1)" text-anchor="end" class="tk">0</text>
<line x1="61.6" y1="422.71" x2="66.5" y2="422.71" stroke="#6e6e6e" stroke-width="1.05"/>
<text transform="translate(56.3,426.01) scale(0.93,1)" text-anchor="end" class="tk">−50</text>
<text x="72.9" y="248" class="pl">b</text>
<line x1="100.20" y1="450.3" x2="100.20" y2="455.3" stroke="#6e6e6e" stroke-width="1.1" stroke-linecap="round"/>
<text transform="translate(100.20,470.50) scale(1.08,1)" text-anchor="middle" class="xl">United</text>
<text transform="translate(100.20,484.80) scale(1.08,1)" text-anchor="middle" class="xl">States</text>
<line x1="167.00" y1="450.3" x2="167.00" y2="455.3" stroke="#6e6e6e" stroke-width="1.1" stroke-linecap="round"/>
<text transform="translate(167.00,470.50) scale(1.08,1)" text-anchor="middle" class="xl">European</text>
<text transform="translate(167.00,484.80) scale(1.08,1)" text-anchor="middle" class="xl">Union</text>
<line x1="233.80" y1="450.3" x2="233.80" y2="455.3" stroke="#6e6e6e" stroke-width="1.1" stroke-linecap="round"/>
<text transform="translate(233.80,470.50) scale(1.08,1)" text-anchor="middle" class="xl">Other</text>
<text transform="translate(233.80,484.80) scale(1.08,1)" text-anchor="middle" class="xl">OECD</text>
<line x1="300.60" y1="450.3" x2="300.60" y2="455.3" stroke="#6e6e6e" stroke-width="1.1" stroke-linecap="round"/>
<text transform="translate(300.60,470.50) scale(1.08,1)" text-anchor="middle" class="xl">Former</text>
<text transform="translate(300.60,484.80) scale(1.08,1)" text-anchor="middle" class="xl">Soviet</text>
<text transform="translate(300.60,499.10) scale(1.08,1)" text-anchor="middle" class="xl">Union</text>
<line x1="367.40" y1="450.3" x2="367.40" y2="455.3" stroke="#6e6e6e" stroke-width="1.1" stroke-linecap="round"/>
<text transform="translate(367.40,470.50) scale(1.08,1)" text-anchor="middle" class="xl">China</text>
<line x1="434.20" y1="450.3" x2="434.20" y2="455.3" stroke="#6e6e6e" stroke-width="1.1" stroke-linecap="round"/>
<text transform="translate(434.20,470.50) scale(1.08,1)" text-anchor="middle" class="xl">India</text>
<line x1="501.00" y1="450.3" x2="501.00" y2="455.3" stroke="#6e6e6e" stroke-width="1.1" stroke-linecap="round"/>
<text transform="translate(501.00,470.50) scale(1.08,1)" text-anchor="middle" class="xl">Latin and</text>
<text transform="translate(501.00,484.80) scale(1.08,1)" text-anchor="middle" class="xl">South</text>
<text transform="translate(501.00,499.10) scale(1.08,1)" text-anchor="middle" class="xl">America</text>
<line x1="567.80" y1="450.3" x2="567.80" y2="455.3" stroke="#6e6e6e" stroke-width="1.1" stroke-linecap="round"/>
<text transform="translate(567.80,470.50) scale(1.08,1)" text-anchor="middle" class="xl">Other Asia</text>
<line x1="634.60" y1="450.3" x2="634.60" y2="455.3" stroke="#6e6e6e" stroke-width="1.1" stroke-linecap="round"/>
<text transform="translate(634.60,470.50) scale(1.08,1)" text-anchor="middle" class="xl">Africa and</text>
<text transform="translate(634.60,484.80) scale(1.08,1)" text-anchor="middle" class="xl">Middle</text>
<text transform="translate(634.60,499.10) scale(1.08,1)" text-anchor="middle" class="xl">East</text>
<text transform="translate(367.3,517.0) scale(1.1,1)" text-anchor="middle" class="xl">Region</text>
<text transform="translate(675.4,85.2) rotate(90) scale(1.09,1)" class="xl">Buildings</text>
<text transform="translate(675.3,313.7) rotate(90) scale(1.07,1)" class="xl">Transport</text>
<text transform="translate(9.5,225.3) rotate(-90) scale(1.07,1)" text-anchor="middle" class="xl">Final energy per capita in 2050</text>
<text transform="translate(23.9,225.4) rotate(-90) scale(1.03,1)" text-anchor="middle" class="xl">relative to 2015 (%)</text>
<text transform="translate(118.6,546.1) scale(1.03,1)" class="lt">Scenario (NPi)</text>
<rect x="100.9" y="554.9" width="10.9" height="10.6" fill="#6e76e6"/>
<text x="118.7" y="563.9" class="lg">REF</text>
<rect x="100.9" y="572.1" width="10.9" height="10.6" fill="#dc5f4c"/>
<text x="118.7" y="581.1" class="lg">ACT</text>
<rect x="100.9" y="589.2" width="10.9" height="10.6" fill="#1db58a"/>
<text x="118.7" y="598.2" class="lg">TEC</text>
<rect x="155.8" y="554.9" width="10.9" height="10.6" fill="#a672e8"/>
<text x="173.6" y="563.9" class="lg">ELE</text>
<rect x="155.8" y="572.1" width="10.9" height="10.6" fill="#e8a06a"/>
<text x="173.6" y="581.1" class="lg">ALL</text>
<text transform="translate(432.4,545.6) scale(1.1,1)" class="lt">Model</text>
<path d="M420.0,555.6999999999999L425.20000000000005,560.9M420.0,560.9L425.20000000000005,555.6999999999999" stroke="#111" stroke-width="2.2"/>
<text x="432.4" y="562.0" class="lg">COFFEE</text>
<rect x="419.30" y="570.70" width="6.6" height="6.6" fill="#111"/>
<text x="432.4" y="577.7" class="lg">IMACLIM-R</text>
<circle cx="422.6" cy="589.2" r="3.4" fill="#111"/>
<text x="432.4" y="592.9" class="lg">IMAGE</text>
<polygon points="516.80,561.21 524.40,561.21 520.60,554.74" fill="#111"/>
<text x="531.0" y="562.0" class="lg">REMIND</text>
<polygon points="517.69,570.58 517.69,577.42 524.16,574.00" fill="#111"/>
<text x="531.0" y="577.7" class="lg">WITCH</text>
<polygon points="523.51,585.78 523.51,592.62 517.04,589.20" fill="#111"/>
<text x="531.0" y="592.9" class="lg">MESSAGEix-Buildings</text>
</svg>
</body></html>
